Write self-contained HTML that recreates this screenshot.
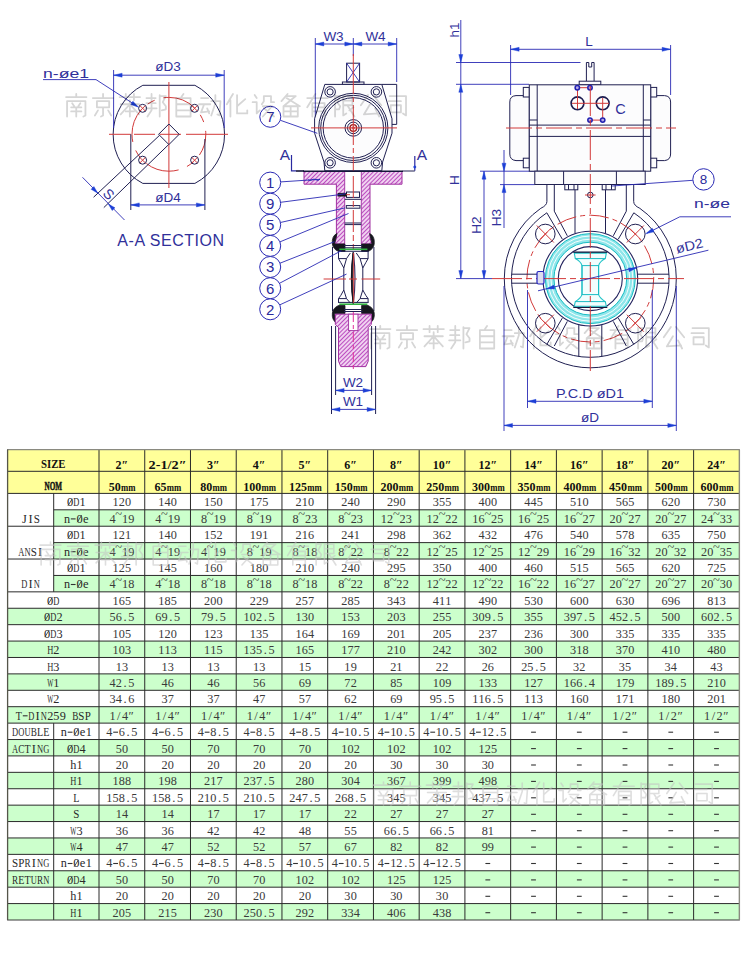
<!DOCTYPE html>
<html><head><meta charset="utf-8"><title>Valve dimensions</title>
<style>
html,body{margin:0;padding:0;background:#fff}
svg{display:block}
text{font-family:"Liberation Serif",serif}
.d{font-size:12.5px;fill:#3a3a3a;text-anchor:middle}
.l{font-size:12.5px;fill:#2a2a2a;text-anchor:middle}
.hb{font-size:12px;font-weight:bold;fill:#111;text-anchor:middle}
.hs{font-size:12px;font-weight:bold;fill:#111;text-anchor:middle}
.mm{font-size:10px}
.k{fill:none;stroke:#202052;stroke-width:1}
.kk{fill:none;stroke:#15153a;stroke-width:1.6}
.kb{fill:none;stroke:#2a2aa0;stroke-width:1.2}
.kf{fill:#fcfcfd;stroke:#202052;stroke-width:1}
.kw{fill:#fff;stroke:#23235e;stroke-width:1.1}
.w{fill:#fff;stroke:none}
.wf{fill:#fcfcfd;stroke:none}
.wm{fill:#fff;stroke:#a030a0;stroke-width:0.9}
.m{fill:none;stroke:#a030a0;stroke-width:0.9}
.r{fill:none;stroke:#d23a3a;stroke-width:1}
.rk{fill:none;stroke:#a02020;stroke-width:1.4}
.mg{fill:none;stroke:#e0309a;stroke-width:1}
.g{fill:none;stroke:#30b040;stroke-width:1.6}
.dm{fill:none;stroke:#2a2ab4;stroke-width:0.9}
.ar{fill:#1d3fd6;stroke:#1d3fd6;stroke-width:0.4}
.bl{fill:#fff;stroke:#2a2ab4;stroke-width:1}
.bb{fill:#b8a8e6;stroke:#2020b0;stroke-width:1.5}
.bbf{fill:#dde;stroke:#2222c0;stroke-width:1.2}
.blk{fill:#16161e;stroke:#16161e;stroke-width:0.8}
.hz{fill:url(#hatch);stroke:#a030a0;stroke-width:1}
.cy{fill:none;stroke:#8fe6ea}
.c2{fill:none;stroke:#18bcc4;stroke-width:1}
.c4{fill:none;stroke:#fff;stroke-width:0.9}
.kt{fill:#fff;stroke:#1c1c50;stroke-width:1.6}
.c3{fill:#f2fdfd;stroke:#25c4c8;stroke-width:1.1}
.t,.tb{font-family:"Liberation Sans",sans-serif;fill:#30309a;stroke:#fff;stroke-width:0.35px;paint-order:stroke}
.tb{fill:#2a2a9c}
</style></head>
<body>
<svg width="750" height="958" viewBox="0 0 750 958">
<defs><pattern id="hatch" width="3" height="3" patternUnits="userSpaceOnUse" patternTransform="rotate(-45)"><rect width="3" height="3" fill="#f6e0f6"/><line x1="0" y1="1.5" x2="3" y2="1.5" stroke="#bb4cc0" stroke-width="1.2"/></pattern></defs>
<rect width="750" height="958" fill="#fff"/>
<g id="drawing">
<path class="k" d="M142.8,85.3 L194.9,85.3 A55.4,55.4 0 0 1 194.9,183.4 L142.8,183.4 A55.4,55.4 0 0 1 142.8,85.3 Z" />
<line class="r" x1="109.0" y1="134.3" x2="130.8" y2="134.3" />
<line class="r" x1="134.0" y1="134.3" x2="205.0" y2="134.3" stroke-dasharray="21 5"/>
<line class="r" x1="205.0" y1="134.3" x2="228.0" y2="134.3" />
<line class="r" x1="168.9" y1="82.0" x2="168.9" y2="188.0" />
<circle class="r" cx="168.9" cy="134.3" r="36.9" stroke-dasharray="34 9 8 9" stroke-dashoffset="12"/>
<circle class="k" cx="142.6" cy="108.3" r="4.0" stroke-width="1.2"/>
<line class="r" x1="139.9" y1="105.6" x2="145.3" y2="111.0" />
<line class="r" x1="139.9" y1="111.0" x2="145.3" y2="105.6" />
<circle class="k" cx="194.6" cy="108.3" r="4.0" stroke-width="1.2"/>
<line class="r" x1="191.9" y1="105.6" x2="197.3" y2="111.0" />
<line class="r" x1="191.9" y1="111.0" x2="197.3" y2="105.6" />
<circle class="k" cx="142.6" cy="160.2" r="4.0" stroke-width="1.2"/>
<line class="r" x1="139.9" y1="157.5" x2="145.3" y2="162.9" />
<line class="r" x1="139.9" y1="162.9" x2="145.3" y2="157.5" />
<circle class="k" cx="194.6" cy="160.2" r="4.0" stroke-width="1.2"/>
<line class="r" x1="191.9" y1="157.5" x2="197.3" y2="162.9" />
<line class="r" x1="191.9" y1="162.9" x2="197.3" y2="157.5" />
<path class="k" d="M168.9,124.0 L179.2,134.3 L168.9,144.6 L158.6,134.3 Z" stroke-linejoin="round" stroke-width="1.3"/>
<line class="k" x1="159.6" y1="135.3" x2="93.6" y2="197.2" />
<line class="k" x1="168.6" y1="144.6" x2="103.8" y2="207.6" />
<line class="dm" x1="82.5" y1="177.3" x2="124.5" y2="220.0" />
<path class="ar" d="M97.8,193.2 L91.1,189.3 L93.9,186.5 Z"/>
<path class="ar" d="M108.3,203.9 L115.0,207.8 L112.2,210.6 Z"/>
<text class="t" x="105.2" y="197.5" font-size="14" text-anchor="middle" transform="rotate(45 105.2 197.5)" >S</text>
<line class="dm" x1="113.6" y1="70.0" x2="113.6" y2="128.0" />
<line class="dm" x1="224.2" y1="70.0" x2="224.2" y2="128.0" />
<line class="dm" x1="113.6" y1="75.2" x2="224.2" y2="75.2" />
<path class="ar" d="M113.6,75.2 L122.1,73.2 L122.1,77.2 Z"/>
<path class="ar" d="M224.2,75.2 L215.7,77.2 L215.7,73.2 Z"/>
<text class="t" x="168.0" y="71.0" font-size="13.5" text-anchor="middle" >øD3</text>
<line class="k" x1="130.8" y1="134.3" x2="130.8" y2="210.0" />
<line class="k" x1="204.9" y1="139.0" x2="204.9" y2="210.0" />
<line class="dm" x1="130.8" y1="204.9" x2="204.9" y2="204.9" />
<path class="ar" d="M130.8,204.9 L139.3,202.9 L139.3,206.9 Z"/>
<path class="ar" d="M204.9,204.9 L196.4,206.9 L196.4,202.9 Z"/>
<text class="t" x="168.0" y="201.5" font-size="13.5" text-anchor="middle" >øD4</text>
<text class="t" x="43.0" y="77.5" font-size="13.5" text-anchor="start" textLength="46" lengthAdjust="spacingAndGlyphs">n-øe1</text>
<line class="dm" x1="43.0" y1="79.6" x2="96.0" y2="79.6" />
<line class="dm" x1="96.0" y1="79.6" x2="137.5" y2="106.4" />
<path class="ar" d="M138.5,107.2 L130.7,104.5 L132.9,101.2 Z"/>
<text class="t" x="171.0" y="246.3" font-size="16" text-anchor="middle" letter-spacing="0.55">A-A SECTION</text>
<line class="dm" x1="315.3" y1="38.0" x2="315.3" y2="120.0" />
<line class="dm" x1="396.7" y1="38.0" x2="396.7" y2="82.0" />
<line class="dm" x1="353.3" y1="38.0" x2="353.3" y2="56.0" />
<line class="dm" x1="315.3" y1="44.0" x2="353.3" y2="44.0" />
<path class="ar" d="M315.3,44.0 L323.8,42.0 L323.8,46.0 Z"/>
<path class="ar" d="M353.3,44.0 L344.8,46.0 L344.8,42.0 Z"/>
<line class="dm" x1="353.3" y1="44.0" x2="396.7" y2="44.0" />
<path class="ar" d="M353.3,44.0 L361.8,42.0 L361.8,46.0 Z"/>
<path class="ar" d="M396.7,44.0 L388.2,46.0 L388.2,42.0 Z"/>
<text class="t" x="333.5" y="40.5" font-size="13.5" text-anchor="middle" >W3</text>
<text class="t" x="375.5" y="40.5" font-size="13.5" text-anchor="middle" >W4</text>
<rect class="k" x="346.6" y="63.2" width="13.0" height="18.8" />
<line class="dm" x1="346.6" y1="63.2" x2="359.6" y2="82.0" />
<line class="dm" x1="359.6" y1="63.2" x2="346.6" y2="82.0" />
<rect class="k" x="342.4" y="82.0" width="21.6" height="2.4" />
<path class="kf" d="M324.8,84.4 L381.8,84.4 L392.0,118.8 L392.0,133.2 L382.6,162.0 L381.8,170.8 L324.8,170.8 L324.0,162.0 L314.6,133.2 L314.6,118.8 Z" />
<path class="k" d="M381.8,84.4 L396.7,84.4 L396.7,124.4 L392.0,124.4" />
<circle class="k" cx="353.3" cy="127.9" r="34.6" />
<circle class="k" cx="353.3" cy="127.9" r="32.6" />
<circle class="k" cx="353.3" cy="127.9" r="30.2" />
<circle class="k" cx="353.3" cy="127.9" r="8.3" />
<circle class="k" cx="353.3" cy="127.9" r="5.8" />
<circle class="rk" cx="353.3" cy="127.9" r="3.3" />
<circle class="r" cx="353.3" cy="127.9" r="1.2" />
<circle class="k" cx="330.1" cy="91.9" r="5.3" />
<circle class="k" cx="330.1" cy="91.9" r="3.1" />
<circle class="k" cx="376.4" cy="91.9" r="5.3" />
<circle class="k" cx="376.4" cy="91.9" r="3.1" />
<circle class="k" cx="330.1" cy="162.8" r="5.3" />
<circle class="k" cx="330.1" cy="162.8" r="3.1" />
<circle class="k" cx="376.4" cy="162.8" r="5.3" />
<circle class="k" cx="376.4" cy="162.8" r="3.1" />
<line class="r" x1="311.0" y1="127.9" x2="397.0" y2="127.9" />
<line class="r" x1="353.3" y1="54.0" x2="353.3" y2="176.0" stroke-dasharray="40 3 5 3"/>
<text class="t" x="285.0" y="160.3" font-size="15.5" text-anchor="middle" >A</text>
<path class="kb" d="M291.5,155.0 L291.5,170.8 L296.0,170.8" />
<line class="kk" x1="296.0" y1="171.0" x2="304.0" y2="171.0" />
<text class="t" x="422.0" y="160.3" font-size="15.5" text-anchor="middle" >A</text>
<path class="kb" d="M414.8,156.0 L414.8,170.8" />
<circle class="ar" cx="414.8" cy="167.0" r="1.2" />
<line class="k" x1="402.7" y1="171.0" x2="414.8" y2="171.0" />
<path class="hz" d="M304,171.5 L402,171.5 L402,184.2 L370,184.2 L370,238 L372,244 L334.5,244 L336.4,238 L336.4,184.2 L304,184.2 Z" />
<rect class="w" x="344.7" y="171.0" width="16.6" height="74.0" />
<line class="m" x1="344.7" y1="171.5" x2="344.7" y2="244.0" />
<line class="m" x1="361.3" y1="171.5" x2="361.3" y2="244.0" />
<line class="kk" x1="303.0" y1="171.3" x2="403.0" y2="171.3" />
<rect class="k" x="346.5" y="192.0" width="13.0" height="5.4" />
<rect class="blk" x="338.0" y="193.3" width="8.5" height="2.8" />
<line class="r" x1="346.0" y1="194.7" x2="350.0" y2="194.7" />
<line class="k" x1="344.7" y1="199.3" x2="361.3" y2="199.3" />
<rect class="k" x="346.3" y="205.6" width="13.6" height="2.6" />
<line class="k" x1="344.7" y1="223.0" x2="361.3" y2="223.0" />
<line class="k" x1="344.7" y1="224.6" x2="361.3" y2="224.6" />
<line class="r" x1="353.3" y1="176.0" x2="353.3" y2="250.0" stroke-dasharray="22 3 6 3"/>
<path class="blk" d="M337,233.5 Q331.5,236 332.4,244 Q333,249 338.5,251.5 L345,251.5 L345,244 L334.5,244 Z" />
<path class="blk" d="M369.6,233.5 Q375.1,236 374.2,244 Q373.6,249 368.1,251.5 L361.6,251.5 L361.6,244 L372.1,244 Z" />
<line class="k" x1="344.0" y1="245.5" x2="362.6" y2="245.5" />
<line class="k" x1="344.0" y1="247.8" x2="362.6" y2="247.8" />
<line class="k" x1="332.5" y1="247.0" x2="332.5" y2="311.0" />
<line class="k" x1="373.9" y1="247.0" x2="373.9" y2="311.0" />
<line class="g" x1="339.3" y1="249.3" x2="367.4" y2="249.3" />
<line class="g" x1="339.3" y1="304.2" x2="367.4" y2="304.2" />
<line class="k" x1="338.0" y1="251.3" x2="368.6" y2="251.3" />
<line class="k" x1="338.0" y1="302.4" x2="368.6" y2="302.4" />
<path class="k" d="M338.5,251.3 L338.5,258.6 L340.8,262.6 L343.8,268.0 L343.8,290.0 L340.8,295.4 L338.5,298.6 L338.5,302.4" />
<path class="k" d="M368.1,251.3 L368.1,258.6 L365.8,262.6 L362.8,268.0 L362.8,290.0 L365.8,295.4 L368.1,298.6 L368.1,302.4" />
<path class="k" d="M338.5,258.6 L346.5,258.6 L343.8,268.0" />
<path class="k" d="M368.1,258.6 L360.1,258.6 L362.8,268.0" />
<path class="k" d="M338.5,298.6 L346.5,298.6 L343.8,290.0" />
<path class="k" d="M368.1,298.6 L360.1,298.6 L362.8,290.0" />
<path class="k" d="M346.5,258.6 L350.3,253.0" />
<path class="k" d="M360.1,258.6 L356.3,253.0" />
<path class="k" d="M346.5,298.6 L350.3,303.0" />
<path class="k" d="M360.1,298.6 L356.3,303.0" />
<path class="kw" d="M353.3,252.4 Q356.7,278 353.3,303.4 Q349.7,278 353.3,252.4 Z" stroke-width="1.2"/>
<path class="blk" d="M353.1,252.4 Q349.5,278 353.1,303.4 Q352.1,278 353.1,252.4 Z" />
<line class="r" x1="353.7" y1="253.0" x2="353.7" y2="303.0" />
<line class="r" x1="323.6" y1="279.0" x2="346.0" y2="279.0" />
<line class="r" x1="349.0" y1="279.0" x2="357.0" y2="279.0" />
<line class="r" x1="361.5" y1="279.0" x2="380.2" y2="279.0" />
<path class="blk" d="M338.5,305.5 Q333,308 332.4,313 Q331.5,320 337,323.5 L334.5,313.5 L345,313.5 L345,305.5 Z" />
<path class="blk" d="M368.1,305.5 Q373.6,308 374.2,313 Q375.1,320 369.6,323.5 L372.1,313.5 L361.6,313.5 L361.6,305.5 Z" />
<line class="k" x1="344.0" y1="309.5" x2="362.6" y2="309.5" />
<line class="k" x1="344.0" y1="311.5" x2="362.6" y2="311.5" />
<path class="hz" d="M335.3,314.2 L371.3,314.2 L371.3,324.5 L368.2,327.5 L368.2,361.2 L365.8,366.6 L340.8,366.6 L338.5,361.2 L338.5,327.5 L335.3,324.5 Z" />
<rect class="wm" x="348.6" y="314.2" width="9.4" height="16.4" />
<line class="mg" x1="353.3" y1="312.0" x2="353.3" y2="372.0" stroke-dasharray="10 3 4 3"/>
<line class="k" x1="331.5" y1="326.0" x2="331.5" y2="414.0" />
<line class="k" x1="375.6" y1="326.0" x2="375.6" y2="414.0" />
<line class="k" x1="335.6" y1="326.0" x2="335.6" y2="395.0" />
<line class="k" x1="371.6" y1="326.0" x2="371.6" y2="395.0" />
<line class="dm" x1="335.6" y1="390.4" x2="371.6" y2="390.4" />
<path class="ar" d="M335.6,390.4 L344.1,388.4 L344.1,392.4 Z"/>
<path class="ar" d="M371.6,390.4 L363.1,392.4 L363.1,388.4 Z"/>
<line class="dm" x1="331.5" y1="409.4" x2="375.6" y2="409.4" />
<path class="ar" d="M331.5,409.4 L340.0,407.4 L340.0,411.4 Z"/>
<path class="ar" d="M375.6,409.4 L367.1,411.4 L367.1,407.4 Z"/>
<text class="t" x="353.0" y="387.0" font-size="13.5" text-anchor="middle" >W2</text>
<text class="t" x="353.0" y="406.0" font-size="13.5" text-anchor="middle" >W1</text>
<line class="dm" x1="280.7" y1="181.9" x2="320.0" y2="179.3" />
<ellipse class="bl" cx="270.2" cy="182.6" rx="10.5" ry="10.5"/>
<text class="tb" x="270.2" y="188.0" font-size="15" text-anchor="middle" >1</text>
<line class="dm" x1="280.6" y1="202.3" x2="345.8" y2="193.8" />
<ellipse class="bl" cx="270.2" cy="203.7" rx="10.5" ry="10.5"/>
<text class="tb" x="270.2" y="209.1" font-size="15" text-anchor="middle" >9</text>
<line class="dm" x1="280.4" y1="222.5" x2="345.0" y2="207.9" />
<ellipse class="bl" cx="270.2" cy="224.8" rx="10.5" ry="10.5"/>
<text class="tb" x="270.2" y="230.2" font-size="15" text-anchor="middle" >5</text>
<line class="dm" x1="279.9" y1="241.9" x2="348.5" y2="213.5" />
<ellipse class="bl" cx="270.2" cy="245.9" rx="10.5" ry="10.5"/>
<text class="tb" x="270.2" y="251.3" font-size="15" text-anchor="middle" >4</text>
<line class="dm" x1="280.0" y1="263.2" x2="334.4" y2="241.7" />
<ellipse class="bl" cx="270.2" cy="267.0" rx="10.5" ry="10.5"/>
<text class="tb" x="270.2" y="272.4" font-size="15" text-anchor="middle" >3</text>
<line class="dm" x1="279.5" y1="283.3" x2="341.4" y2="250.7" />
<ellipse class="bl" cx="270.2" cy="288.2" rx="10.5" ry="10.5"/>
<text class="tb" x="270.2" y="293.6" font-size="15" text-anchor="middle" >6</text>
<line class="dm" x1="279.7" y1="304.9" x2="346.5" y2="274.1" />
<ellipse class="bl" cx="270.2" cy="309.3" rx="10.5" ry="10.5"/>
<text class="tb" x="270.2" y="314.7" font-size="15" text-anchor="middle" >2</text>
<line class="dm" x1="280.4" y1="120.3" x2="317.3" y2="133.3" />
<ellipse class="bl" cx="270.3" cy="116.8" rx="10.5" ry="10.5"/>
<text class="tb" x="270.3" y="122.2" font-size="15" text-anchor="middle" >7</text>
<path class="dm" d="M308,179.8 q2,1.5 4,0 t4,0 t4,-0.6" />
<line class="dm" x1="456.0" y1="62.5" x2="580.5" y2="62.5" />
<line class="dm" x1="456.0" y1="84.3" x2="529.0" y2="84.3" />
<line class="dm" x1="460.8" y1="20.0" x2="460.8" y2="278.6" />
<path class="ar" d="M460.8,62.5 L458.8,54.5 L462.8,54.5 Z"/>
<path class="ar" d="M460.8,84.3 L462.8,92.3 L458.8,92.3 Z"/>
<path class="ar" d="M460.8,278.6 L458.8,270.6 L462.8,270.6 Z"/>
<text class="t" x="458.5" y="30.0" font-size="13.5" text-anchor="middle" transform="rotate(-90 458.5 30.0)" >h1</text>
<text class="t" x="458.5" y="180.0" font-size="13.5" text-anchor="middle" transform="rotate(-90 458.5 180.0)" >H</text>
<line class="dm" x1="456.0" y1="278.6" x2="492.0" y2="278.6" />
<line class="dm" x1="480.0" y1="171.2" x2="534.8" y2="171.2" />
<line class="dm" x1="484.0" y1="171.2" x2="484.0" y2="278.6" />
<path class="ar" d="M484.0,171.2 L486.0,179.2 L482.0,179.2 Z"/>
<path class="ar" d="M484.0,278.6 L482.0,270.6 L486.0,270.6 Z"/>
<text class="t" x="481.0" y="225.0" font-size="13.5" text-anchor="middle" transform="rotate(-90 481.0 225.0)" >H2</text>
<line class="dm" x1="500.0" y1="184.6" x2="534.8" y2="184.6" />
<line class="dm" x1="504.0" y1="150.0" x2="504.0" y2="228.0" />
<path class="ar" d="M504.0,171.2 L502.0,163.2 L506.0,163.2 Z"/>
<path class="ar" d="M504.0,184.6 L506.0,192.6 L502.0,192.6 Z"/>
<text class="t" x="501.3" y="217.5" font-size="13.5" text-anchor="middle" transform="rotate(-90 501.3 217.5)" >H3</text>
<line class="dm" x1="510.6" y1="45.0" x2="510.6" y2="95.0" />
<line class="dm" x1="670.6" y1="45.0" x2="670.6" y2="95.0" />
<line class="dm" x1="510.6" y1="49.3" x2="670.6" y2="49.3" />
<path class="ar" d="M510.6,49.3 L519.1,47.3 L519.1,51.3 Z"/>
<path class="ar" d="M670.6,49.3 L662.1,51.3 L662.1,47.3 Z"/>
<text class="t" x="589.0" y="45.5" font-size="13.5" text-anchor="middle" >L</text>
<path class="kf" d="M586.4,81.2 L586.4,62.5 L588.8,62.5 L588.8,67 L591.7,67 L591.7,62.5 L594.1,62.5 L594.1,81.2" />
<rect class="kf" x="579.2" y="81.2" width="21.6" height="3.6" />
<path class="kf" d="M529.3,95.6 L516,95.6 Q509.8,96 509.8,102 L509.8,154 Q509.8,160 516,160.6 L529.3,160.6 Z" />
<path class="kf" d="M650.7,95.6 L664.5,95.6 Q670.6,96 670.6,102 L670.6,154 Q670.6,160 664.5,160.6 L650.7,160.6 Z" />
<rect class="kf" x="523.3" y="87.4" width="6.0" height="9.6" />
<rect class="kf" x="650.7" y="87.4" width="6.0" height="9.6" />
<rect class="kf" x="523.3" y="158.2" width="6.0" height="9.6" />
<rect class="kf" x="650.7" y="158.2" width="6.0" height="9.6" />
<rect class="kf" x="529.3" y="84.8" width="121.4" height="86.4" />
<line class="k" x1="537.2" y1="84.8" x2="537.2" y2="171.2" />
<line class="k" x1="643.3" y1="84.8" x2="643.3" y2="171.2" />
<line class="k" x1="529.3" y1="125.1" x2="650.7" y2="125.1" />
<line class="k" x1="529.3" y1="136.4" x2="650.7" y2="136.4" />
<line class="k" x1="529.3" y1="120.0" x2="537.2" y2="120.0" />
<line class="k" x1="643.3" y1="120.0" x2="650.7" y2="120.0" />
<line class="r" x1="506.0" y1="128.0" x2="676.0" y2="128.0" stroke-dasharray="26 4 6 4"/>
<circle class="kt" cx="577.5" cy="103.3" r="6.4" />
<circle class="kt" cx="602.7" cy="103.3" r="6.4" />
<line class="r" x1="572.0" y1="103.3" x2="609.0" y2="103.3" />
<line class="r" x1="577.5" y1="87.7" x2="577.5" y2="109.0" />
<line class="r" x1="602.7" y1="98.0" x2="602.7" y2="120.1" />
<line class="r" x1="577.3" y1="87.7" x2="590.0" y2="87.7" />
<line class="r" x1="590.0" y1="120.1" x2="602.7" y2="120.1" />
<circle class="bb" cx="577.3" cy="87.7" r="2.2" />
<circle class="bb" cx="590.0" cy="87.7" r="2.2" />
<circle class="bb" cx="590.0" cy="120.1" r="2.2" />
<circle class="bb" cx="602.7" cy="120.1" r="2.2" />
<text class="t" x="620.5" y="113.5" font-size="14.5" text-anchor="middle" >C</text>
<rect class="kf" x="534.8" y="171.2" width="110.4" height="13.3" />
<line class="k" x1="563.6" y1="171.2" x2="563.6" y2="184.5" />
<line class="k" x1="616.4" y1="171.2" x2="616.4" y2="184.5" />
<rect class="kf" x="564.8" y="184.5" width="13.0" height="5.3" />
<rect class="kf" x="602.2" y="184.5" width="13.0" height="5.3" />
<line class="k" x1="568.5" y1="184.5" x2="568.5" y2="189.8" />
<line class="k" x1="574.0" y1="184.5" x2="574.0" y2="189.8" />
<line class="k" x1="606.0" y1="184.5" x2="606.0" y2="189.8" />
<line class="k" x1="611.5" y1="184.5" x2="611.5" y2="189.8" />
<path class="k" d="M639.8,208.3 A86.0,86.0 0 0 1 676.3,278.6 A86.0,89.2 0 0 1 504.3,278.6 A86.0,86.0 0 0 1 540.8,208.3" />
<path class="k" d="M546.9,184.5 L546.9,201.5 Q546.9,205.5 540.8,208.3" />
<path class="k" d="M633.7,184.5 L633.7,201.5 Q633.7,205.5 639.8,208.3" />
<line class="k" x1="567.3" y1="235.8" x2="554.3" y2="211.2" />
<line class="k" x1="562.3" y1="239.1" x2="546.8" y2="212.8" />
<line class="k" x1="567.3" y1="321.4" x2="554.3" y2="346.0" />
<line class="k" x1="562.3" y1="318.1" x2="546.8" y2="344.4" />
<line class="k" x1="554.3" y1="184.5" x2="554.3" y2="211.2" />
<line class="k" x1="613.3" y1="235.8" x2="626.3" y2="211.2" />
<line class="k" x1="618.3" y1="239.1" x2="633.8" y2="212.8" />
<line class="k" x1="613.3" y1="321.4" x2="626.3" y2="346.0" />
<line class="k" x1="618.3" y1="318.1" x2="633.8" y2="344.4" />
<line class="k" x1="626.3" y1="184.5" x2="626.3" y2="211.2" />
<path class="k" d="M633.8,212.8 A78.8,78.8 0 1 1 546.8,212.8" />
<line class="k" x1="575.0" y1="189.8" x2="575.0" y2="233.5" />
<line class="k" x1="605.5" y1="189.8" x2="605.5" y2="233.5" />
<circle class="k" cx="590.3" cy="195.0" r="2.8" />
<line class="r" x1="585.0" y1="195.0" x2="595.6" y2="195.0" />
<circle class="r" cx="590.3" cy="278.6" r="63.4" stroke-dasharray="20 4 5 4"/>
<circle class="k" cx="545.3" cy="234.0" r="9.8" />
<line class="r" x1="536.8" y1="225.5" x2="553.8" y2="242.5" />
<line class="r" x1="539.8" y1="239.5" x2="550.8" y2="228.5" />
<circle class="k" cx="545.3" cy="323.2" r="9.8" />
<line class="r" x1="536.8" y1="331.7" x2="553.8" y2="314.7" />
<line class="r" x1="539.8" y1="317.7" x2="550.8" y2="328.7" />
<circle class="k" cx="635.3" cy="234.0" r="9.8" />
<line class="r" x1="626.8" y1="242.5" x2="643.8" y2="225.5" />
<line class="r" x1="629.8" y1="228.5" x2="640.8" y2="239.5" />
<circle class="k" cx="635.3" cy="323.2" r="9.8" />
<line class="r" x1="626.8" y1="314.7" x2="643.8" y2="331.7" />
<line class="r" x1="629.8" y1="328.7" x2="640.8" y2="317.7" />
<line class="k" x1="542.7" y1="274.2" x2="511.6" y2="274.2" />
<line class="k" x1="542.7" y1="283.2" x2="511.6" y2="283.2" />
<line class="k" x1="637.9" y1="274.2" x2="669.0" y2="274.2" />
<line class="k" x1="637.9" y1="283.2" x2="669.0" y2="283.2" />
<line class="k" x1="578.8" y1="325.1" x2="578.8" y2="356.6" />
<line class="k" x1="601.8" y1="325.1" x2="601.8" y2="356.6" />
<circle class="kw" cx="590.3" cy="278.6" r="47.4" stroke-width="1.4"/>
<circle class="cy" cx="590.3" cy="278.6" r="40.6" stroke-width="8.6"/>
<circle class="c2" cx="590.3" cy="278.6" r="45.0" stroke-width="1.7"/>
<circle class="c2" cx="590.3" cy="278.6" r="36.4" stroke-width="1.7"/>
<circle class="c4" cx="590.3" cy="278.6" r="42.6" />
<circle class="c4" cx="590.3" cy="278.6" r="39.4" />
<circle class="kw" cx="590.3" cy="278.6" r="32.0" stroke-width="1.3"/>
<line class="kk" x1="573.3" y1="252.2" x2="607.3" y2="252.2" />
<line class="kk" x1="573.3" y1="307.2" x2="607.3" y2="307.2" />
<path class="c3" d="M574.3,253.20000000000002 L606.3,253.20000000000002 L605.3,258.6 Q599.8,261.6 598.5999999999999,265.6 L598.5999999999999,294.6 Q599.8,298.1 605.3,301.6 L606.3,306.20000000000005 L574.3,306.20000000000005 L575.3,301.6 Q580.8,298.1 582.0,294.6 L582.0,265.6 Q580.8,261.6 575.3,258.6 Z" />
<line class="c2" x1="575.3" y1="258.6" x2="605.3" y2="258.6" />
<line class="c2" x1="575.3" y1="301.6" x2="605.3" y2="301.6" />
<rect class="c2" x="582.0" y="265.6" width="16.6" height="29.0" />
<line class="r" x1="492.0" y1="278.6" x2="684.0" y2="278.6" stroke-dasharray="30 4 6 4"/>
<line class="r" x1="590.3" y1="86.0" x2="590.3" y2="371.0" stroke-dasharray="30 4 6 4"/>
<line class="dm" x1="538.0" y1="290.8" x2="708.4" y2="250.2" />
<path class="ar" d="M546.5,288.8 L553.8,285.1 L554.7,288.9 Z"/>
<path class="ar" d="M636.5,268.0 L629.2,271.7 L628.3,267.9 Z"/>
<text class="t" x="690.5" y="250.3" font-size="13.5" text-anchor="middle" transform="rotate(-13.4 690.5 250.3)" textLength="27.5" lengthAdjust="spacingAndGlyphs">øD2</text>
<rect class="bbf" x="537.0" y="271.5" width="7.0" height="12.5" rx="1.5"/>
<line class="dm" x1="692.9" y1="180.3" x2="612.0" y2="186.0" />
<ellipse class="bl" cx="703.5" cy="179.4" rx="10.7" ry="10.7"/>
<text class="tb" x="703.5" y="184.3" font-size="13.5" text-anchor="middle" >8</text>
<text class="t" x="712.0" y="208.3" font-size="13.5" text-anchor="middle" textLength="36" lengthAdjust="spacingAndGlyphs">n-øe</text>
<line class="dm" x1="679.8" y1="216.8" x2="731.0" y2="216.8" />
<line class="dm" x1="679.8" y1="216.8" x2="647.0" y2="233.2" />
<path class="ar" d="M645.6,233.8 L652.3,228.2 L654.1,231.8 Z"/>
<line class="dm" x1="527.5" y1="290.0" x2="527.5" y2="408.0" />
<line class="dm" x1="652.3" y1="290.0" x2="652.3" y2="408.0" />
<line class="dm" x1="527.5" y1="401.3" x2="652.3" y2="401.3" />
<path class="ar" d="M527.5,401.3 L536.0,399.3 L536.0,403.3 Z"/>
<path class="ar" d="M652.3,401.3 L643.8,403.3 L643.8,399.3 Z"/>
<text class="t" x="590.0" y="397.5" font-size="13" text-anchor="middle" textLength="68" lengthAdjust="spacingAndGlyphs">P.C.D  øD1</text>
<line class="dm" x1="504.0" y1="286.0" x2="504.0" y2="431.0" />
<line class="dm" x1="676.3" y1="286.0" x2="676.3" y2="431.0" />
<line class="dm" x1="504.0" y1="425.4" x2="676.3" y2="425.4" />
<path class="ar" d="M504.0,425.4 L512.5,423.4 L512.5,427.4 Z"/>
<path class="ar" d="M676.3,425.4 L667.8,427.4 L667.8,423.4 Z"/>
<text class="t" x="590.0" y="422.0" font-size="13.5" text-anchor="middle" >øD</text>
</g>
<g id="wm-top" style="mix-blend-mode:multiply">
<g fill="none" stroke="#d6d6d6" stroke-width="1.76" stroke-linecap="round" stroke-linejoin="round" opacity="1.0">
<path transform="translate(64.0 93.0) scale(1.021)" d="M2,4 L22,4 M12,1 L12,4 M3,23 L3,8 L21,8 L21,22 L19,23 M8,10 L10,13 M16,10 L14,13 M7,14 L17,14 M7,18 L17,18 M12,14 L12,23"/>
<path transform="translate(90.8 93.0) scale(1.021)" d="M12,1 L12,4 M2,5 L22,5 M6,8 L18,8 L18,14 L6,14 Z M12,14 L12,22 L10,23 M7,17 L4,22 M17,17 L20,22"/>
<path transform="translate(117.6 93.0) scale(1.021)" d="M2,4 L22,4 M8,1 L8,7 M16,1 L16,7 M3,11 L21,11 M12,7 L12,23 M12,11 L3,21 M12,11 L21,21 M8,18 L16,18"/>
<path transform="translate(144.4 93.0) scale(1.021)" d="M2,5 L11,5 M2,10 L11,10 M1,15 L12,15 M7,1 L7,17 L3,23 M15,2 L15,23 M15,3 L21,3 L18,9 L21,13 L21,16 L17,17"/>
<path transform="translate(171.2 93.0) scale(1.021)" d="M12,1 L10,4 M5,5 L19,5 L19,23 L5,23 Z M5,11 L19,11 M5,17 L19,17"/>
<path transform="translate(198.0 93.0) scale(1.021)" d="M3,5 L10,5 M1,11 L12,11 M6,11 L3,19 L11,18 M9,15 L11,20 M13,8 L22,8 L21,22 L19,21 M17,2 L17,10 L13,22"/>
<path transform="translate(224.8 93.0) scale(1.021)" d="M8,1 L2,11 M5.5,7 L5.5,23 M20,6 L12,13 M12,2 L12,20 L22,20 L22,17"/>
<path transform="translate(251.6 93.0) scale(1.021)" d="M3,2 L5,5 M1,9 L5,9 L5,20 L8,17 M12,3 L12,8 L10,11 M12,3 L19,3 L19,9 L22,9 M11,13 L20,13 L11,23 M12,15 L22,23"/>
<path transform="translate(278.4 93.0) scale(1.021)" d="M9,1 L3,8 M8,3 L17,3 L5,13 M8,5 L21,13 M5,13 L19,13 L19,23 L5,23 Z M12,13 L12,23 M5,18 L19,18"/>
<path transform="translate(305.2 93.0) scale(1.021)" d="M2,5 L22,5 M10,1 L2,14 M7,10 L7,23 M7,10 L19,10 L19,22 L17,23 M7,14 L19,14 M7,18 L19,18"/>
<path transform="translate(332.0 93.0) scale(1.021)" d="M3,2 L3,23 M3,3 L8,3 L5,9 L8,13 L7,16 L4,16 M11,3 L20,3 L20,12 L11,12 M11,3 L11,22 L14,20 M11,7.5 L20,7.5 M15,12 L22,23 M21,14 L17,17"/>
<path transform="translate(358.8 93.0) scale(1.021)" d="M9,2 L2,12 M14,2 L22,12 M11,11 L5,21 L19,20 M16,15 L20,23"/>
<path transform="translate(385.6 93.0) scale(1.021)" d="M4,3 L20,3 L20,22 L17,20 M3,8 L15,8 M5,12 L15,12 L15,19 L5,19 Z"/>
</g>
<g fill="none" stroke="#d6d6d6" stroke-width="1.76" stroke-linecap="round" stroke-linejoin="round" opacity="1.0">
<path transform="translate(368.0 325.0) scale(1.021)" d="M2,4 L22,4 M12,1 L12,4 M3,23 L3,8 L21,8 L21,22 L19,23 M8,10 L10,13 M16,10 L14,13 M7,14 L17,14 M7,18 L17,18 M12,14 L12,23"/>
<path transform="translate(394.7 325.0) scale(1.021)" d="M12,1 L12,4 M2,5 L22,5 M6,8 L18,8 L18,14 L6,14 Z M12,14 L12,22 L10,23 M7,17 L4,22 M17,17 L20,22"/>
<path transform="translate(421.4 325.0) scale(1.021)" d="M2,4 L22,4 M8,1 L8,7 M16,1 L16,7 M3,11 L21,11 M12,7 L12,23 M12,11 L3,21 M12,11 L21,21 M8,18 L16,18"/>
<path transform="translate(448.1 325.0) scale(1.021)" d="M2,5 L11,5 M2,10 L11,10 M1,15 L12,15 M7,1 L7,17 L3,23 M15,2 L15,23 M15,3 L21,3 L18,9 L21,13 L21,16 L17,17"/>
<path transform="translate(474.8 325.0) scale(1.021)" d="M12,1 L10,4 M5,5 L19,5 L19,23 L5,23 Z M5,11 L19,11 M5,17 L19,17"/>
<path transform="translate(501.5 325.0) scale(1.021)" d="M3,5 L10,5 M1,11 L12,11 M6,11 L3,19 L11,18 M9,15 L11,20 M13,8 L22,8 L21,22 L19,21 M17,2 L17,10 L13,22"/>
<path transform="translate(528.2 325.0) scale(1.021)" d="M8,1 L2,11 M5.5,7 L5.5,23 M20,6 L12,13 M12,2 L12,20 L22,20 L22,17"/>
<path transform="translate(554.9 325.0) scale(1.021)" d="M3,2 L5,5 M1,9 L5,9 L5,20 L8,17 M12,3 L12,8 L10,11 M12,3 L19,3 L19,9 L22,9 M11,13 L20,13 L11,23 M12,15 L22,23"/>
<path transform="translate(581.6 325.0) scale(1.021)" d="M9,1 L3,8 M8,3 L17,3 L5,13 M8,5 L21,13 M5,13 L19,13 L19,23 L5,23 Z M12,13 L12,23 M5,18 L19,18"/>
<path transform="translate(608.3 325.0) scale(1.021)" d="M2,5 L22,5 M10,1 L2,14 M7,10 L7,23 M7,10 L19,10 L19,22 L17,23 M7,14 L19,14 M7,18 L19,18"/>
<path transform="translate(635.0 325.0) scale(1.021)" d="M3,2 L3,23 M3,3 L8,3 L5,9 L8,13 L7,16 L4,16 M11,3 L20,3 L20,12 L11,12 M11,3 L11,22 L14,20 M11,7.5 L20,7.5 M15,12 L22,23 M21,14 L17,17"/>
<path transform="translate(661.7 325.0) scale(1.021)" d="M9,2 L2,12 M14,2 L22,12 M11,11 L5,21 L19,20 M16,15 L20,23"/>
<path transform="translate(688.4 325.0) scale(1.021)" d="M4,3 L20,3 L20,22 L17,20 M3,8 L15,8 M5,12 L15,12 L15,19 L5,19 Z"/>
</g>
</g>
<g id="table">
<rect x="7.6" y="449.6" width="731.76" height="43.80" fill="#ffff99"/>
<rect x="53.70" y="509.81" width="685.66" height="16.41" fill="#ccffcc"/>
<rect x="53.70" y="542.62" width="685.66" height="16.41" fill="#ccffcc"/>
<rect x="53.70" y="575.44" width="685.66" height="16.41" fill="#ccffcc"/>
<rect x="7.60" y="608.25" width="731.76" height="16.41" fill="#ccffcc"/>
<rect x="7.60" y="641.07" width="731.76" height="16.41" fill="#ccffcc"/>
<rect x="7.60" y="673.88" width="731.76" height="16.41" fill="#ccffcc"/>
<rect x="7.60" y="706.70" width="731.76" height="16.41" fill="#ccffcc"/>
<rect x="7.60" y="739.52" width="731.76" height="16.41" fill="#ccffcc"/>
<rect x="7.60" y="772.33" width="731.76" height="16.41" fill="#ccffcc"/>
<rect x="7.60" y="805.15" width="731.76" height="16.41" fill="#ccffcc"/>
<rect x="7.60" y="837.96" width="731.76" height="16.41" fill="#ccffcc"/>
<rect x="7.60" y="870.78" width="731.76" height="16.41" fill="#ccffcc"/>
<rect x="7.60" y="903.59" width="731.76" height="16.41" fill="#ccffcc"/>
<line x1="7.60" y1="471.30" x2="739.36" y2="471.30" stroke="#2a2a2a" stroke-width="1"/>
<line x1="7.60" y1="493.40" x2="739.36" y2="493.40" stroke="#2a2a2a" stroke-width="1"/>
<line x1="53.70" y1="509.81" x2="739.36" y2="509.81" stroke="#2a2a2a" stroke-width="1"/>
<line x1="7.60" y1="526.22" x2="739.36" y2="526.22" stroke="#2a2a2a" stroke-width="1"/>
<line x1="53.70" y1="542.62" x2="739.36" y2="542.62" stroke="#2a2a2a" stroke-width="1"/>
<line x1="7.60" y1="559.03" x2="739.36" y2="559.03" stroke="#2a2a2a" stroke-width="1"/>
<line x1="53.70" y1="575.44" x2="739.36" y2="575.44" stroke="#2a2a2a" stroke-width="1"/>
<line x1="7.60" y1="591.85" x2="739.36" y2="591.85" stroke="#2a2a2a" stroke-width="1"/>
<line x1="7.60" y1="608.25" x2="739.36" y2="608.25" stroke="#2a2a2a" stroke-width="1"/>
<line x1="7.60" y1="624.66" x2="739.36" y2="624.66" stroke="#2a2a2a" stroke-width="1"/>
<line x1="7.60" y1="641.07" x2="739.36" y2="641.07" stroke="#2a2a2a" stroke-width="1"/>
<line x1="7.60" y1="657.48" x2="739.36" y2="657.48" stroke="#2a2a2a" stroke-width="1"/>
<line x1="7.60" y1="673.88" x2="739.36" y2="673.88" stroke="#2a2a2a" stroke-width="1"/>
<line x1="7.60" y1="690.29" x2="739.36" y2="690.29" stroke="#2a2a2a" stroke-width="1"/>
<line x1="7.60" y1="706.70" x2="739.36" y2="706.70" stroke="#2a2a2a" stroke-width="1"/>
<line x1="7.60" y1="723.11" x2="739.36" y2="723.11" stroke="#2a2a2a" stroke-width="1"/>
<line x1="7.60" y1="739.52" x2="739.36" y2="739.52" stroke="#2a2a2a" stroke-width="1"/>
<line x1="7.60" y1="755.92" x2="739.36" y2="755.92" stroke="#2a2a2a" stroke-width="1"/>
<line x1="7.60" y1="772.33" x2="739.36" y2="772.33" stroke="#2a2a2a" stroke-width="1"/>
<line x1="7.60" y1="788.74" x2="739.36" y2="788.74" stroke="#2a2a2a" stroke-width="1"/>
<line x1="7.60" y1="805.15" x2="739.36" y2="805.15" stroke="#2a2a2a" stroke-width="1"/>
<line x1="7.60" y1="821.55" x2="739.36" y2="821.55" stroke="#2a2a2a" stroke-width="1"/>
<line x1="7.60" y1="837.96" x2="739.36" y2="837.96" stroke="#2a2a2a" stroke-width="1"/>
<line x1="7.60" y1="854.37" x2="739.36" y2="854.37" stroke="#2a2a2a" stroke-width="1"/>
<line x1="7.60" y1="870.78" x2="739.36" y2="870.78" stroke="#2a2a2a" stroke-width="1"/>
<line x1="7.60" y1="887.18" x2="739.36" y2="887.18" stroke="#2a2a2a" stroke-width="1"/>
<line x1="7.60" y1="903.59" x2="739.36" y2="903.59" stroke="#2a2a2a" stroke-width="1"/>
<line x1="99.00" y1="449.60" x2="99.00" y2="920.00" stroke="#2a2a2a" stroke-width="1"/>
<line x1="144.74" y1="449.60" x2="144.74" y2="920.00" stroke="#2a2a2a" stroke-width="1"/>
<line x1="190.48" y1="449.60" x2="190.48" y2="920.00" stroke="#2a2a2a" stroke-width="1"/>
<line x1="236.22" y1="449.60" x2="236.22" y2="920.00" stroke="#2a2a2a" stroke-width="1"/>
<line x1="281.96" y1="449.60" x2="281.96" y2="920.00" stroke="#2a2a2a" stroke-width="1"/>
<line x1="327.70" y1="449.60" x2="327.70" y2="920.00" stroke="#2a2a2a" stroke-width="1"/>
<line x1="373.44" y1="449.60" x2="373.44" y2="920.00" stroke="#2a2a2a" stroke-width="1"/>
<line x1="419.18" y1="449.60" x2="419.18" y2="920.00" stroke="#2a2a2a" stroke-width="1"/>
<line x1="464.92" y1="449.60" x2="464.92" y2="920.00" stroke="#2a2a2a" stroke-width="1"/>
<line x1="510.66" y1="449.60" x2="510.66" y2="920.00" stroke="#2a2a2a" stroke-width="1"/>
<line x1="556.40" y1="449.60" x2="556.40" y2="920.00" stroke="#2a2a2a" stroke-width="1"/>
<line x1="602.14" y1="449.60" x2="602.14" y2="920.00" stroke="#2a2a2a" stroke-width="1"/>
<line x1="647.88" y1="449.60" x2="647.88" y2="920.00" stroke="#2a2a2a" stroke-width="1"/>
<line x1="693.62" y1="449.60" x2="693.62" y2="920.00" stroke="#2a2a2a" stroke-width="1"/>
<line x1="53.70" y1="493.40" x2="53.70" y2="591.85" stroke="#2a2a2a" stroke-width="1"/>
<line x1="53.70" y1="723.11" x2="53.70" y2="920.00" stroke="#2a2a2a" stroke-width="1"/>
<line x1="7.10" y1="449.60" x2="739.86" y2="449.60" stroke="#8a8a80" stroke-width="1.4"/>
<line x1="7.10" y1="920.00" x2="739.86" y2="920.00" stroke="#3a3a3a" stroke-width="1.2"/>
<line x1="7.60" y1="449.60" x2="7.60" y2="920.00" stroke="#55554a" stroke-width="1.3"/>
<line x1="739.36" y1="449.60" x2="739.36" y2="920.00" stroke="#8a8a80" stroke-width="1.4"/>
<text class="hb" x="53.3" y="467.6" textLength="24.5" lengthAdjust="spacingAndGlyphs">SIZE</text>
<text class="hb" x="53.3" y="490" textLength="17.5" stroke="#111" stroke-width="0.5" lengthAdjust="spacingAndGlyphs">NOM</text>
<text class="hs" x="121.9" y="468.6">2″</text>
<text class="hs" x="108.8" y="490.6" style="text-anchor:start">50<tspan class="mm" dx="0.3" textLength="14.5" lengthAdjust="spacingAndGlyphs">mm</tspan></text>
<text class="hs" x="167.6" y="468.6" textLength="38" lengthAdjust="spacingAndGlyphs">2-1/2″</text>
<text class="hs" x="154.5" y="490.6" style="text-anchor:start">65<tspan class="mm" dx="0.3" textLength="14.5" lengthAdjust="spacingAndGlyphs">mm</tspan></text>
<text class="hs" x="213.4" y="468.6">3″</text>
<text class="hs" x="200.3" y="490.6" style="text-anchor:start">80<tspan class="mm" dx="0.3" textLength="14.5" lengthAdjust="spacingAndGlyphs">mm</tspan></text>
<text class="hs" x="259.1" y="468.6">4″</text>
<text class="hs" x="243.2" y="490.6" style="text-anchor:start">100<tspan class="mm" dx="0.3" textLength="14.5" lengthAdjust="spacingAndGlyphs">mm</tspan></text>
<text class="hs" x="304.8" y="468.6">5″</text>
<text class="hs" x="288.9" y="490.6" style="text-anchor:start">125<tspan class="mm" dx="0.3" textLength="14.5" lengthAdjust="spacingAndGlyphs">mm</tspan></text>
<text class="hs" x="350.6" y="468.6">6″</text>
<text class="hs" x="334.7" y="490.6" style="text-anchor:start">150<tspan class="mm" dx="0.3" textLength="14.5" lengthAdjust="spacingAndGlyphs">mm</tspan></text>
<text class="hs" x="396.3" y="468.6">8″</text>
<text class="hs" x="380.4" y="490.6" style="text-anchor:start">200<tspan class="mm" dx="0.3" textLength="14.5" lengthAdjust="spacingAndGlyphs">mm</tspan></text>
<text class="hs" x="442.1" y="468.6">10″</text>
<text class="hs" x="426.2" y="490.6" style="text-anchor:start">250<tspan class="mm" dx="0.3" textLength="14.5" lengthAdjust="spacingAndGlyphs">mm</tspan></text>
<text class="hs" x="487.8" y="468.6">12″</text>
<text class="hs" x="471.9" y="490.6" style="text-anchor:start">300<tspan class="mm" dx="0.3" textLength="14.5" lengthAdjust="spacingAndGlyphs">mm</tspan></text>
<text class="hs" x="533.5" y="468.6">14″</text>
<text class="hs" x="517.6" y="490.6" style="text-anchor:start">350<tspan class="mm" dx="0.3" textLength="14.5" lengthAdjust="spacingAndGlyphs">mm</tspan></text>
<text class="hs" x="579.3" y="468.6">16″</text>
<text class="hs" x="563.4" y="490.6" style="text-anchor:start">400<tspan class="mm" dx="0.3" textLength="14.5" lengthAdjust="spacingAndGlyphs">mm</tspan></text>
<text class="hs" x="625.0" y="468.6">18″</text>
<text class="hs" x="609.1" y="490.6" style="text-anchor:start">450<tspan class="mm" dx="0.3" textLength="14.5" lengthAdjust="spacingAndGlyphs">mm</tspan></text>
<text class="hs" x="670.8" y="468.6">20″</text>
<text class="hs" x="654.9" y="490.6" style="text-anchor:start">500<tspan class="mm" dx="0.3" textLength="14.5" lengthAdjust="spacingAndGlyphs">mm</tspan></text>
<text class="hs" x="716.5" y="468.6">24″</text>
<text class="hs" x="700.6" y="490.6" style="text-anchor:start">600<tspan class="mm" dx="0.3" textLength="14.5" lengthAdjust="spacingAndGlyphs">mm</tspan></text>
<text class="l" x="70.1" y="506.4">0</text><line x1="67.9" y1="505.8" x2="72.3" y2="498.8" stroke="#2a2a2a" stroke-width="0.8"/><text class="l" transform="translate(76.3 506.4) scale(0.678 1)">D</text><text class="l" transform="translate(82.6 506.4) scale(0.980 1)">1</text>
<text class="l" y="522.8"><tspan x="24.4">J</tspan><tspan x="30.7">I</tspan></text><text class="l" transform="translate(36.9 522.8) scale(0.881 1)">S</text>
<text class="d" transform="translate(115.6 506.4) scale(0.980 1)">1</text><text class="d" transform="translate(121.9 506.4) scale(0.980 1)">2</text><text class="d" transform="translate(128.1 506.4) scale(0.980 1)">0</text>
<text class="d" transform="translate(161.4 506.4) scale(0.980 1)">1</text><text class="d" transform="translate(167.6 506.4) scale(0.980 1)">4</text><text class="d" transform="translate(173.9 506.4) scale(0.980 1)">0</text>
<text class="d" transform="translate(207.1 506.4) scale(0.980 1)">1</text><text class="d" transform="translate(213.4 506.4) scale(0.980 1)">5</text><text class="d" transform="translate(219.6 506.4) scale(0.980 1)">0</text>
<text class="d" transform="translate(252.8 506.4) scale(0.980 1)">1</text><text class="d" transform="translate(259.1 506.4) scale(0.980 1)">7</text><text class="d" transform="translate(265.3 506.4) scale(0.980 1)">5</text>
<text class="d" transform="translate(298.6 506.4) scale(0.980 1)">2</text><text class="d" transform="translate(304.8 506.4) scale(0.980 1)">1</text><text class="d" transform="translate(311.1 506.4) scale(0.980 1)">0</text>
<text class="d" transform="translate(344.3 506.4) scale(0.980 1)">2</text><text class="d" transform="translate(350.6 506.4) scale(0.980 1)">4</text><text class="d" transform="translate(356.8 506.4) scale(0.980 1)">0</text>
<text class="d" transform="translate(390.1 506.4) scale(0.980 1)">2</text><text class="d" transform="translate(396.3 506.4) scale(0.980 1)">9</text><text class="d" transform="translate(402.6 506.4) scale(0.980 1)">0</text>
<text class="d" transform="translate(435.8 506.4) scale(0.980 1)">3</text><text class="d" transform="translate(442.1 506.4) scale(0.980 1)">5</text><text class="d" transform="translate(448.3 506.4) scale(0.980 1)">5</text>
<text class="d" transform="translate(481.5 506.4) scale(0.980 1)">4</text><text class="d" transform="translate(487.8 506.4) scale(0.980 1)">0</text><text class="d" transform="translate(494.0 506.4) scale(0.980 1)">0</text>
<text class="d" transform="translate(527.3 506.4) scale(0.980 1)">4</text><text class="d" transform="translate(533.5 506.4) scale(0.980 1)">4</text><text class="d" transform="translate(539.8 506.4) scale(0.980 1)">5</text>
<text class="d" transform="translate(573.0 506.4) scale(0.980 1)">5</text><text class="d" transform="translate(579.3 506.4) scale(0.980 1)">1</text><text class="d" transform="translate(585.5 506.4) scale(0.980 1)">0</text>
<text class="d" transform="translate(618.8 506.4) scale(0.980 1)">5</text><text class="d" transform="translate(625.0 506.4) scale(0.980 1)">6</text><text class="d" transform="translate(631.3 506.4) scale(0.980 1)">5</text>
<text class="d" transform="translate(664.5 506.4) scale(0.980 1)">6</text><text class="d" transform="translate(670.8 506.4) scale(0.980 1)">2</text><text class="d" transform="translate(677.0 506.4) scale(0.980 1)">0</text>
<text class="d" transform="translate(710.2 506.4) scale(0.980 1)">7</text><text class="d" transform="translate(716.5 506.4) scale(0.980 1)">3</text><text class="d" transform="translate(722.7 506.4) scale(0.980 1)">0</text>
<text class="l" y="522.8"><tspan x="85.7">e</tspan></text><text class="l" transform="translate(67.0 522.8) scale(0.980 1)">n</text><line x1="70.8" y1="518.9" x2="75.6" y2="518.9" stroke="#333" stroke-width="1.1"/><text class="l" x="79.5" y="522.8">0</text><line x1="77.3" y1="522.2" x2="81.7" y2="515.2" stroke="#2a2a2a" stroke-width="0.8"/>
<text class="d" transform="translate(112.5 522.8) scale(0.980 1)">4</text><text class="d" x="118.7" y="518.2">~</text><text class="d" transform="translate(125.0 522.8) scale(0.980 1)">1</text><text class="d" transform="translate(131.2 522.8) scale(0.980 1)">9</text>
<text class="d" transform="translate(158.2 522.8) scale(0.980 1)">4</text><text class="d" x="164.5" y="518.2">~</text><text class="d" transform="translate(170.7 522.8) scale(0.980 1)">1</text><text class="d" transform="translate(177.0 522.8) scale(0.980 1)">9</text>
<text class="d" transform="translate(204.0 522.8) scale(0.980 1)">8</text><text class="d" x="210.2" y="518.2">~</text><text class="d" transform="translate(216.5 522.8) scale(0.980 1)">1</text><text class="d" transform="translate(222.7 522.8) scale(0.980 1)">9</text>
<text class="d" transform="translate(249.7 522.8) scale(0.980 1)">8</text><text class="d" x="256.0" y="518.2">~</text><text class="d" transform="translate(262.2 522.8) scale(0.980 1)">1</text><text class="d" transform="translate(268.5 522.8) scale(0.980 1)">9</text>
<text class="d" transform="translate(295.5 522.8) scale(0.980 1)">8</text><text class="d" x="301.7" y="518.2">~</text><text class="d" transform="translate(308.0 522.8) scale(0.980 1)">2</text><text class="d" transform="translate(314.2 522.8) scale(0.980 1)">3</text>
<text class="d" transform="translate(341.2 522.8) scale(0.980 1)">8</text><text class="d" x="347.4" y="518.2">~</text><text class="d" transform="translate(353.7 522.8) scale(0.980 1)">2</text><text class="d" transform="translate(359.9 522.8) scale(0.980 1)">3</text>
<text class="d" transform="translate(383.8 522.8) scale(0.980 1)">1</text><text class="d" transform="translate(390.1 522.8) scale(0.980 1)">2</text><text class="d" x="396.3" y="518.2">~</text><text class="d" transform="translate(402.6 522.8) scale(0.980 1)">2</text><text class="d" transform="translate(408.8 522.8) scale(0.980 1)">3</text>
<text class="d" transform="translate(429.6 522.8) scale(0.980 1)">1</text><text class="d" transform="translate(435.8 522.8) scale(0.980 1)">2</text><text class="d" x="442.1" y="518.2">~</text><text class="d" transform="translate(448.3 522.8) scale(0.980 1)">2</text><text class="d" transform="translate(454.6 522.8) scale(0.980 1)">2</text>
<text class="d" transform="translate(475.3 522.8) scale(0.980 1)">1</text><text class="d" transform="translate(481.5 522.8) scale(0.980 1)">6</text><text class="d" x="487.8" y="518.2">~</text><text class="d" transform="translate(494.0 522.8) scale(0.980 1)">2</text><text class="d" transform="translate(500.3 522.8) scale(0.980 1)">5</text>
<text class="d" transform="translate(521.0 522.8) scale(0.980 1)">1</text><text class="d" transform="translate(527.3 522.8) scale(0.980 1)">6</text><text class="d" x="533.5" y="518.2">~</text><text class="d" transform="translate(539.8 522.8) scale(0.980 1)">2</text><text class="d" transform="translate(546.0 522.8) scale(0.980 1)">5</text>
<text class="d" transform="translate(566.8 522.8) scale(0.980 1)">1</text><text class="d" transform="translate(573.0 522.8) scale(0.980 1)">6</text><text class="d" x="579.3" y="518.2">~</text><text class="d" transform="translate(585.5 522.8) scale(0.980 1)">2</text><text class="d" transform="translate(591.8 522.8) scale(0.980 1)">7</text>
<text class="d" transform="translate(612.5 522.8) scale(0.980 1)">2</text><text class="d" transform="translate(618.8 522.8) scale(0.980 1)">0</text><text class="d" x="625.0" y="518.2">~</text><text class="d" transform="translate(631.3 522.8) scale(0.980 1)">2</text><text class="d" transform="translate(637.5 522.8) scale(0.980 1)">7</text>
<text class="d" transform="translate(658.2 522.8) scale(0.980 1)">2</text><text class="d" transform="translate(664.5 522.8) scale(0.980 1)">0</text><text class="d" x="670.8" y="518.2">~</text><text class="d" transform="translate(677.0 522.8) scale(0.980 1)">2</text><text class="d" transform="translate(683.2 522.8) scale(0.980 1)">7</text>
<text class="d" transform="translate(704.0 522.8) scale(0.980 1)">2</text><text class="d" transform="translate(710.2 522.8) scale(0.980 1)">4</text><text class="d" x="716.5" y="518.2">~</text><text class="d" transform="translate(722.7 522.8) scale(0.980 1)">3</text><text class="d" transform="translate(729.0 522.8) scale(0.980 1)">3</text>
<text class="l" x="70.1" y="539.2">0</text><line x1="67.9" y1="538.6" x2="72.3" y2="531.6" stroke="#2a2a2a" stroke-width="0.8"/><text class="l" transform="translate(76.3 539.2) scale(0.678 1)">D</text><text class="l" transform="translate(82.6 539.2) scale(0.980 1)">1</text>
<text class="l" y="555.6"><tspan x="40.0">I</tspan></text><text class="l" transform="translate(21.3 555.6) scale(0.678 1)">A</text><text class="l" transform="translate(27.5 555.6) scale(0.678 1)">N</text><text class="l" transform="translate(33.8 555.6) scale(0.881 1)">S</text>
<text class="d" transform="translate(115.6 539.2) scale(0.980 1)">1</text><text class="d" transform="translate(121.9 539.2) scale(0.980 1)">2</text><text class="d" transform="translate(128.1 539.2) scale(0.980 1)">1</text>
<text class="d" transform="translate(161.4 539.2) scale(0.980 1)">1</text><text class="d" transform="translate(167.6 539.2) scale(0.980 1)">4</text><text class="d" transform="translate(173.9 539.2) scale(0.980 1)">0</text>
<text class="d" transform="translate(207.1 539.2) scale(0.980 1)">1</text><text class="d" transform="translate(213.4 539.2) scale(0.980 1)">5</text><text class="d" transform="translate(219.6 539.2) scale(0.980 1)">2</text>
<text class="d" transform="translate(252.8 539.2) scale(0.980 1)">1</text><text class="d" transform="translate(259.1 539.2) scale(0.980 1)">9</text><text class="d" transform="translate(265.3 539.2) scale(0.980 1)">1</text>
<text class="d" transform="translate(298.6 539.2) scale(0.980 1)">2</text><text class="d" transform="translate(304.8 539.2) scale(0.980 1)">1</text><text class="d" transform="translate(311.1 539.2) scale(0.980 1)">6</text>
<text class="d" transform="translate(344.3 539.2) scale(0.980 1)">2</text><text class="d" transform="translate(350.6 539.2) scale(0.980 1)">4</text><text class="d" transform="translate(356.8 539.2) scale(0.980 1)">1</text>
<text class="d" transform="translate(390.1 539.2) scale(0.980 1)">2</text><text class="d" transform="translate(396.3 539.2) scale(0.980 1)">9</text><text class="d" transform="translate(402.6 539.2) scale(0.980 1)">8</text>
<text class="d" transform="translate(435.8 539.2) scale(0.980 1)">3</text><text class="d" transform="translate(442.1 539.2) scale(0.980 1)">6</text><text class="d" transform="translate(448.3 539.2) scale(0.980 1)">2</text>
<text class="d" transform="translate(481.5 539.2) scale(0.980 1)">4</text><text class="d" transform="translate(487.8 539.2) scale(0.980 1)">3</text><text class="d" transform="translate(494.0 539.2) scale(0.980 1)">2</text>
<text class="d" transform="translate(527.3 539.2) scale(0.980 1)">4</text><text class="d" transform="translate(533.5 539.2) scale(0.980 1)">7</text><text class="d" transform="translate(539.8 539.2) scale(0.980 1)">6</text>
<text class="d" transform="translate(573.0 539.2) scale(0.980 1)">5</text><text class="d" transform="translate(579.3 539.2) scale(0.980 1)">4</text><text class="d" transform="translate(585.5 539.2) scale(0.980 1)">0</text>
<text class="d" transform="translate(618.8 539.2) scale(0.980 1)">5</text><text class="d" transform="translate(625.0 539.2) scale(0.980 1)">7</text><text class="d" transform="translate(631.3 539.2) scale(0.980 1)">8</text>
<text class="d" transform="translate(664.5 539.2) scale(0.980 1)">6</text><text class="d" transform="translate(670.8 539.2) scale(0.980 1)">3</text><text class="d" transform="translate(677.0 539.2) scale(0.980 1)">5</text>
<text class="d" transform="translate(710.2 539.2) scale(0.980 1)">7</text><text class="d" transform="translate(716.5 539.2) scale(0.980 1)">5</text><text class="d" transform="translate(722.7 539.2) scale(0.980 1)">0</text>
<text class="l" y="555.6"><tspan x="85.7">e</tspan></text><text class="l" transform="translate(67.0 555.6) scale(0.980 1)">n</text><line x1="70.8" y1="551.7" x2="75.6" y2="551.7" stroke="#333" stroke-width="1.1"/><text class="l" x="79.5" y="555.6">0</text><line x1="77.3" y1="555.0" x2="81.7" y2="548.0" stroke="#2a2a2a" stroke-width="0.8"/>
<text class="d" transform="translate(112.5 555.6) scale(0.980 1)">4</text><text class="d" x="118.7" y="551.0">~</text><text class="d" transform="translate(125.0 555.6) scale(0.980 1)">1</text><text class="d" transform="translate(131.2 555.6) scale(0.980 1)">9</text>
<text class="d" transform="translate(158.2 555.6) scale(0.980 1)">4</text><text class="d" x="164.5" y="551.0">~</text><text class="d" transform="translate(170.7 555.6) scale(0.980 1)">1</text><text class="d" transform="translate(177.0 555.6) scale(0.980 1)">9</text>
<text class="d" transform="translate(204.0 555.6) scale(0.980 1)">4</text><text class="d" x="210.2" y="551.0">~</text><text class="d" transform="translate(216.5 555.6) scale(0.980 1)">1</text><text class="d" transform="translate(222.7 555.6) scale(0.980 1)">9</text>
<text class="d" transform="translate(249.7 555.6) scale(0.980 1)">8</text><text class="d" x="256.0" y="551.0">~</text><text class="d" transform="translate(262.2 555.6) scale(0.980 1)">1</text><text class="d" transform="translate(268.5 555.6) scale(0.980 1)">9</text>
<text class="d" transform="translate(295.5 555.6) scale(0.980 1)">8</text><text class="d" x="301.7" y="551.0">~</text><text class="d" transform="translate(308.0 555.6) scale(0.980 1)">1</text><text class="d" transform="translate(314.2 555.6) scale(0.980 1)">8</text>
<text class="d" transform="translate(341.2 555.6) scale(0.980 1)">8</text><text class="d" x="347.4" y="551.0">~</text><text class="d" transform="translate(353.7 555.6) scale(0.980 1)">2</text><text class="d" transform="translate(359.9 555.6) scale(0.980 1)">2</text>
<text class="d" transform="translate(386.9 555.6) scale(0.980 1)">8</text><text class="d" x="393.2" y="551.0">~</text><text class="d" transform="translate(399.4 555.6) scale(0.980 1)">2</text><text class="d" transform="translate(405.7 555.6) scale(0.980 1)">2</text>
<text class="d" transform="translate(429.6 555.6) scale(0.980 1)">1</text><text class="d" transform="translate(435.8 555.6) scale(0.980 1)">2</text><text class="d" x="442.1" y="551.0">~</text><text class="d" transform="translate(448.3 555.6) scale(0.980 1)">2</text><text class="d" transform="translate(454.6 555.6) scale(0.980 1)">5</text>
<text class="d" transform="translate(475.3 555.6) scale(0.980 1)">1</text><text class="d" transform="translate(481.5 555.6) scale(0.980 1)">2</text><text class="d" x="487.8" y="551.0">~</text><text class="d" transform="translate(494.0 555.6) scale(0.980 1)">2</text><text class="d" transform="translate(500.3 555.6) scale(0.980 1)">5</text>
<text class="d" transform="translate(521.0 555.6) scale(0.980 1)">1</text><text class="d" transform="translate(527.3 555.6) scale(0.980 1)">2</text><text class="d" x="533.5" y="551.0">~</text><text class="d" transform="translate(539.8 555.6) scale(0.980 1)">2</text><text class="d" transform="translate(546.0 555.6) scale(0.980 1)">9</text>
<text class="d" transform="translate(566.8 555.6) scale(0.980 1)">1</text><text class="d" transform="translate(573.0 555.6) scale(0.980 1)">6</text><text class="d" x="579.3" y="551.0">~</text><text class="d" transform="translate(585.5 555.6) scale(0.980 1)">2</text><text class="d" transform="translate(591.8 555.6) scale(0.980 1)">9</text>
<text class="d" transform="translate(612.5 555.6) scale(0.980 1)">1</text><text class="d" transform="translate(618.8 555.6) scale(0.980 1)">6</text><text class="d" x="625.0" y="551.0">~</text><text class="d" transform="translate(631.3 555.6) scale(0.980 1)">3</text><text class="d" transform="translate(637.5 555.6) scale(0.980 1)">2</text>
<text class="d" transform="translate(658.2 555.6) scale(0.980 1)">2</text><text class="d" transform="translate(664.5 555.6) scale(0.980 1)">0</text><text class="d" x="670.8" y="551.0">~</text><text class="d" transform="translate(677.0 555.6) scale(0.980 1)">3</text><text class="d" transform="translate(683.2 555.6) scale(0.980 1)">2</text>
<text class="d" transform="translate(704.0 555.6) scale(0.980 1)">2</text><text class="d" transform="translate(710.2 555.6) scale(0.980 1)">0</text><text class="d" x="716.5" y="551.0">~</text><text class="d" transform="translate(722.7 555.6) scale(0.980 1)">3</text><text class="d" transform="translate(729.0 555.6) scale(0.980 1)">5</text>
<text class="l" x="70.1" y="572.0">0</text><line x1="67.9" y1="571.4" x2="72.3" y2="564.4" stroke="#2a2a2a" stroke-width="0.8"/><text class="l" transform="translate(76.3 572.0) scale(0.678 1)">D</text><text class="l" transform="translate(82.6 572.0) scale(0.980 1)">1</text>
<text class="l" y="588.4"><tspan x="30.7">I</tspan></text><text class="l" transform="translate(24.4 588.4) scale(0.678 1)">D</text><text class="l" transform="translate(36.9 588.4) scale(0.678 1)">N</text>
<text class="d" transform="translate(115.6 572.0) scale(0.980 1)">1</text><text class="d" transform="translate(121.9 572.0) scale(0.980 1)">2</text><text class="d" transform="translate(128.1 572.0) scale(0.980 1)">5</text>
<text class="d" transform="translate(161.4 572.0) scale(0.980 1)">1</text><text class="d" transform="translate(167.6 572.0) scale(0.980 1)">4</text><text class="d" transform="translate(173.9 572.0) scale(0.980 1)">5</text>
<text class="d" transform="translate(207.1 572.0) scale(0.980 1)">1</text><text class="d" transform="translate(213.4 572.0) scale(0.980 1)">6</text><text class="d" transform="translate(219.6 572.0) scale(0.980 1)">0</text>
<text class="d" transform="translate(252.8 572.0) scale(0.980 1)">1</text><text class="d" transform="translate(259.1 572.0) scale(0.980 1)">8</text><text class="d" transform="translate(265.3 572.0) scale(0.980 1)">0</text>
<text class="d" transform="translate(298.6 572.0) scale(0.980 1)">2</text><text class="d" transform="translate(304.8 572.0) scale(0.980 1)">1</text><text class="d" transform="translate(311.1 572.0) scale(0.980 1)">0</text>
<text class="d" transform="translate(344.3 572.0) scale(0.980 1)">2</text><text class="d" transform="translate(350.6 572.0) scale(0.980 1)">4</text><text class="d" transform="translate(356.8 572.0) scale(0.980 1)">0</text>
<text class="d" transform="translate(390.1 572.0) scale(0.980 1)">2</text><text class="d" transform="translate(396.3 572.0) scale(0.980 1)">9</text><text class="d" transform="translate(402.6 572.0) scale(0.980 1)">5</text>
<text class="d" transform="translate(435.8 572.0) scale(0.980 1)">3</text><text class="d" transform="translate(442.1 572.0) scale(0.980 1)">5</text><text class="d" transform="translate(448.3 572.0) scale(0.980 1)">0</text>
<text class="d" transform="translate(481.5 572.0) scale(0.980 1)">4</text><text class="d" transform="translate(487.8 572.0) scale(0.980 1)">0</text><text class="d" transform="translate(494.0 572.0) scale(0.980 1)">0</text>
<text class="d" transform="translate(527.3 572.0) scale(0.980 1)">4</text><text class="d" transform="translate(533.5 572.0) scale(0.980 1)">6</text><text class="d" transform="translate(539.8 572.0) scale(0.980 1)">0</text>
<text class="d" transform="translate(573.0 572.0) scale(0.980 1)">5</text><text class="d" transform="translate(579.3 572.0) scale(0.980 1)">1</text><text class="d" transform="translate(585.5 572.0) scale(0.980 1)">5</text>
<text class="d" transform="translate(618.8 572.0) scale(0.980 1)">5</text><text class="d" transform="translate(625.0 572.0) scale(0.980 1)">6</text><text class="d" transform="translate(631.3 572.0) scale(0.980 1)">5</text>
<text class="d" transform="translate(664.5 572.0) scale(0.980 1)">6</text><text class="d" transform="translate(670.8 572.0) scale(0.980 1)">2</text><text class="d" transform="translate(677.0 572.0) scale(0.980 1)">0</text>
<text class="d" transform="translate(710.2 572.0) scale(0.980 1)">7</text><text class="d" transform="translate(716.5 572.0) scale(0.980 1)">2</text><text class="d" transform="translate(722.7 572.0) scale(0.980 1)">5</text>
<text class="l" y="588.4"><tspan x="85.7">e</tspan></text><text class="l" transform="translate(67.0 588.4) scale(0.980 1)">n</text><line x1="70.8" y1="584.5" x2="75.6" y2="584.5" stroke="#333" stroke-width="1.1"/><text class="l" x="79.5" y="588.4">0</text><line x1="77.3" y1="587.8" x2="81.7" y2="580.8" stroke="#2a2a2a" stroke-width="0.8"/>
<text class="d" transform="translate(112.5 588.4) scale(0.980 1)">4</text><text class="d" x="118.7" y="583.8">~</text><text class="d" transform="translate(125.0 588.4) scale(0.980 1)">1</text><text class="d" transform="translate(131.2 588.4) scale(0.980 1)">8</text>
<text class="d" transform="translate(158.2 588.4) scale(0.980 1)">4</text><text class="d" x="164.5" y="583.8">~</text><text class="d" transform="translate(170.7 588.4) scale(0.980 1)">1</text><text class="d" transform="translate(177.0 588.4) scale(0.980 1)">8</text>
<text class="d" transform="translate(204.0 588.4) scale(0.980 1)">8</text><text class="d" x="210.2" y="583.8">~</text><text class="d" transform="translate(216.5 588.4) scale(0.980 1)">1</text><text class="d" transform="translate(222.7 588.4) scale(0.980 1)">8</text>
<text class="d" transform="translate(249.7 588.4) scale(0.980 1)">8</text><text class="d" x="256.0" y="583.8">~</text><text class="d" transform="translate(262.2 588.4) scale(0.980 1)">1</text><text class="d" transform="translate(268.5 588.4) scale(0.980 1)">8</text>
<text class="d" transform="translate(295.5 588.4) scale(0.980 1)">8</text><text class="d" x="301.7" y="583.8">~</text><text class="d" transform="translate(308.0 588.4) scale(0.980 1)">1</text><text class="d" transform="translate(314.2 588.4) scale(0.980 1)">8</text>
<text class="d" transform="translate(341.2 588.4) scale(0.980 1)">8</text><text class="d" x="347.4" y="583.8">~</text><text class="d" transform="translate(353.7 588.4) scale(0.980 1)">2</text><text class="d" transform="translate(359.9 588.4) scale(0.980 1)">2</text>
<text class="d" transform="translate(386.9 588.4) scale(0.980 1)">8</text><text class="d" x="393.2" y="583.8">~</text><text class="d" transform="translate(399.4 588.4) scale(0.980 1)">2</text><text class="d" transform="translate(405.7 588.4) scale(0.980 1)">2</text>
<text class="d" transform="translate(429.6 588.4) scale(0.980 1)">1</text><text class="d" transform="translate(435.8 588.4) scale(0.980 1)">2</text><text class="d" x="442.1" y="583.8">~</text><text class="d" transform="translate(448.3 588.4) scale(0.980 1)">2</text><text class="d" transform="translate(454.6 588.4) scale(0.980 1)">2</text>
<text class="d" transform="translate(475.3 588.4) scale(0.980 1)">1</text><text class="d" transform="translate(481.5 588.4) scale(0.980 1)">2</text><text class="d" x="487.8" y="583.8">~</text><text class="d" transform="translate(494.0 588.4) scale(0.980 1)">2</text><text class="d" transform="translate(500.3 588.4) scale(0.980 1)">2</text>
<text class="d" transform="translate(521.0 588.4) scale(0.980 1)">1</text><text class="d" transform="translate(527.3 588.4) scale(0.980 1)">6</text><text class="d" x="533.5" y="583.8">~</text><text class="d" transform="translate(539.8 588.4) scale(0.980 1)">2</text><text class="d" transform="translate(546.0 588.4) scale(0.980 1)">2</text>
<text class="d" transform="translate(566.8 588.4) scale(0.980 1)">1</text><text class="d" transform="translate(573.0 588.4) scale(0.980 1)">6</text><text class="d" x="579.3" y="583.8">~</text><text class="d" transform="translate(585.5 588.4) scale(0.980 1)">2</text><text class="d" transform="translate(591.8 588.4) scale(0.980 1)">7</text>
<text class="d" transform="translate(612.5 588.4) scale(0.980 1)">2</text><text class="d" transform="translate(618.8 588.4) scale(0.980 1)">0</text><text class="d" x="625.0" y="583.8">~</text><text class="d" transform="translate(631.3 588.4) scale(0.980 1)">2</text><text class="d" transform="translate(637.5 588.4) scale(0.980 1)">7</text>
<text class="d" transform="translate(658.2 588.4) scale(0.980 1)">2</text><text class="d" transform="translate(664.5 588.4) scale(0.980 1)">0</text><text class="d" x="670.8" y="583.8">~</text><text class="d" transform="translate(677.0 588.4) scale(0.980 1)">2</text><text class="d" transform="translate(683.2 588.4) scale(0.980 1)">7</text>
<text class="d" transform="translate(704.0 588.4) scale(0.980 1)">2</text><text class="d" transform="translate(710.2 588.4) scale(0.980 1)">0</text><text class="d" x="716.5" y="583.8">~</text><text class="d" transform="translate(722.7 588.4) scale(0.980 1)">3</text><text class="d" transform="translate(729.0 588.4) scale(0.980 1)">0</text>
<text class="l" x="50.2" y="604.9">0</text><line x1="48.0" y1="604.3" x2="52.4" y2="597.3" stroke="#2a2a2a" stroke-width="0.8"/><text class="l" transform="translate(56.4 604.9) scale(0.678 1)">D</text>
<text class="d" transform="translate(115.6 604.9) scale(0.980 1)">1</text><text class="d" transform="translate(121.9 604.9) scale(0.980 1)">6</text><text class="d" transform="translate(128.1 604.9) scale(0.980 1)">5</text>
<text class="d" transform="translate(161.4 604.9) scale(0.980 1)">1</text><text class="d" transform="translate(167.6 604.9) scale(0.980 1)">8</text><text class="d" transform="translate(173.9 604.9) scale(0.980 1)">5</text>
<text class="d" transform="translate(207.1 604.9) scale(0.980 1)">2</text><text class="d" transform="translate(213.4 604.9) scale(0.980 1)">0</text><text class="d" transform="translate(219.6 604.9) scale(0.980 1)">0</text>
<text class="d" transform="translate(252.8 604.9) scale(0.980 1)">2</text><text class="d" transform="translate(259.1 604.9) scale(0.980 1)">2</text><text class="d" transform="translate(265.3 604.9) scale(0.980 1)">9</text>
<text class="d" transform="translate(298.6 604.9) scale(0.980 1)">2</text><text class="d" transform="translate(304.8 604.9) scale(0.980 1)">5</text><text class="d" transform="translate(311.1 604.9) scale(0.980 1)">7</text>
<text class="d" transform="translate(344.3 604.9) scale(0.980 1)">2</text><text class="d" transform="translate(350.6 604.9) scale(0.980 1)">8</text><text class="d" transform="translate(356.8 604.9) scale(0.980 1)">5</text>
<text class="d" transform="translate(390.1 604.9) scale(0.980 1)">3</text><text class="d" transform="translate(396.3 604.9) scale(0.980 1)">4</text><text class="d" transform="translate(402.6 604.9) scale(0.980 1)">3</text>
<text class="d" transform="translate(435.8 604.9) scale(0.980 1)">4</text><text class="d" transform="translate(442.1 604.9) scale(0.980 1)">1</text><text class="d" transform="translate(448.3 604.9) scale(0.980 1)">1</text>
<text class="d" transform="translate(481.5 604.9) scale(0.980 1)">4</text><text class="d" transform="translate(487.8 604.9) scale(0.980 1)">9</text><text class="d" transform="translate(494.0 604.9) scale(0.980 1)">0</text>
<text class="d" transform="translate(527.3 604.9) scale(0.980 1)">5</text><text class="d" transform="translate(533.5 604.9) scale(0.980 1)">3</text><text class="d" transform="translate(539.8 604.9) scale(0.980 1)">0</text>
<text class="d" transform="translate(573.0 604.9) scale(0.980 1)">6</text><text class="d" transform="translate(579.3 604.9) scale(0.980 1)">0</text><text class="d" transform="translate(585.5 604.9) scale(0.980 1)">0</text>
<text class="d" transform="translate(618.8 604.9) scale(0.980 1)">6</text><text class="d" transform="translate(625.0 604.9) scale(0.980 1)">3</text><text class="d" transform="translate(631.3 604.9) scale(0.980 1)">0</text>
<text class="d" transform="translate(664.5 604.9) scale(0.980 1)">6</text><text class="d" transform="translate(670.8 604.9) scale(0.980 1)">9</text><text class="d" transform="translate(677.0 604.9) scale(0.980 1)">6</text>
<text class="d" transform="translate(710.2 604.9) scale(0.980 1)">8</text><text class="d" transform="translate(716.5 604.9) scale(0.980 1)">1</text><text class="d" transform="translate(722.7 604.9) scale(0.980 1)">3</text>
<text class="l" x="47.0" y="621.3">0</text><line x1="44.8" y1="620.7" x2="49.2" y2="613.7" stroke="#2a2a2a" stroke-width="0.8"/><text class="l" transform="translate(53.3 621.3) scale(0.678 1)">D</text><text class="l" transform="translate(59.5 621.3) scale(0.980 1)">2</text>
<text class="d" y="621.3"><tspan x="125.0">.</tspan></text><text class="d" transform="translate(112.5 621.3) scale(0.980 1)">5</text><text class="d" transform="translate(118.7 621.3) scale(0.980 1)">6</text><text class="d" transform="translate(131.2 621.3) scale(0.980 1)">5</text>
<text class="d" y="621.3"><tspan x="170.7">.</tspan></text><text class="d" transform="translate(158.2 621.3) scale(0.980 1)">6</text><text class="d" transform="translate(164.5 621.3) scale(0.980 1)">9</text><text class="d" transform="translate(177.0 621.3) scale(0.980 1)">5</text>
<text class="d" y="621.3"><tspan x="216.5">.</tspan></text><text class="d" transform="translate(204.0 621.3) scale(0.980 1)">7</text><text class="d" transform="translate(210.2 621.3) scale(0.980 1)">9</text><text class="d" transform="translate(222.7 621.3) scale(0.980 1)">5</text>
<text class="d" y="621.3"><tspan x="265.3">.</tspan></text><text class="d" transform="translate(246.6 621.3) scale(0.980 1)">1</text><text class="d" transform="translate(252.8 621.3) scale(0.980 1)">0</text><text class="d" transform="translate(259.1 621.3) scale(0.980 1)">2</text><text class="d" transform="translate(271.6 621.3) scale(0.980 1)">5</text>
<text class="d" transform="translate(298.6 621.3) scale(0.980 1)">1</text><text class="d" transform="translate(304.8 621.3) scale(0.980 1)">3</text><text class="d" transform="translate(311.1 621.3) scale(0.980 1)">0</text>
<text class="d" transform="translate(344.3 621.3) scale(0.980 1)">1</text><text class="d" transform="translate(350.6 621.3) scale(0.980 1)">5</text><text class="d" transform="translate(356.8 621.3) scale(0.980 1)">3</text>
<text class="d" transform="translate(390.1 621.3) scale(0.980 1)">2</text><text class="d" transform="translate(396.3 621.3) scale(0.980 1)">0</text><text class="d" transform="translate(402.6 621.3) scale(0.980 1)">3</text>
<text class="d" transform="translate(435.8 621.3) scale(0.980 1)">2</text><text class="d" transform="translate(442.1 621.3) scale(0.980 1)">5</text><text class="d" transform="translate(448.3 621.3) scale(0.980 1)">5</text>
<text class="d" y="621.3"><tspan x="494.0">.</tspan></text><text class="d" transform="translate(475.3 621.3) scale(0.980 1)">3</text><text class="d" transform="translate(481.5 621.3) scale(0.980 1)">0</text><text class="d" transform="translate(487.8 621.3) scale(0.980 1)">9</text><text class="d" transform="translate(500.3 621.3) scale(0.980 1)">5</text>
<text class="d" transform="translate(527.3 621.3) scale(0.980 1)">3</text><text class="d" transform="translate(533.5 621.3) scale(0.980 1)">5</text><text class="d" transform="translate(539.8 621.3) scale(0.980 1)">5</text>
<text class="d" y="621.3"><tspan x="585.5">.</tspan></text><text class="d" transform="translate(566.8 621.3) scale(0.980 1)">3</text><text class="d" transform="translate(573.0 621.3) scale(0.980 1)">9</text><text class="d" transform="translate(579.3 621.3) scale(0.980 1)">7</text><text class="d" transform="translate(591.8 621.3) scale(0.980 1)">5</text>
<text class="d" y="621.3"><tspan x="631.3">.</tspan></text><text class="d" transform="translate(612.5 621.3) scale(0.980 1)">4</text><text class="d" transform="translate(618.8 621.3) scale(0.980 1)">5</text><text class="d" transform="translate(625.0 621.3) scale(0.980 1)">2</text><text class="d" transform="translate(637.5 621.3) scale(0.980 1)">5</text>
<text class="d" transform="translate(664.5 621.3) scale(0.980 1)">5</text><text class="d" transform="translate(670.8 621.3) scale(0.980 1)">0</text><text class="d" transform="translate(677.0 621.3) scale(0.980 1)">0</text>
<text class="d" y="621.3"><tspan x="722.7">.</tspan></text><text class="d" transform="translate(704.0 621.3) scale(0.980 1)">6</text><text class="d" transform="translate(710.2 621.3) scale(0.980 1)">0</text><text class="d" transform="translate(716.5 621.3) scale(0.980 1)">2</text><text class="d" transform="translate(729.0 621.3) scale(0.980 1)">5</text>
<text class="l" x="47.0" y="637.7">0</text><line x1="44.8" y1="637.1" x2="49.2" y2="630.1" stroke="#2a2a2a" stroke-width="0.8"/><text class="l" transform="translate(53.3 637.7) scale(0.678 1)">D</text><text class="l" transform="translate(59.5 637.7) scale(0.980 1)">3</text>
<text class="d" transform="translate(115.6 637.7) scale(0.980 1)">1</text><text class="d" transform="translate(121.9 637.7) scale(0.980 1)">0</text><text class="d" transform="translate(128.1 637.7) scale(0.980 1)">5</text>
<text class="d" transform="translate(161.4 637.7) scale(0.980 1)">1</text><text class="d" transform="translate(167.6 637.7) scale(0.980 1)">2</text><text class="d" transform="translate(173.9 637.7) scale(0.980 1)">0</text>
<text class="d" transform="translate(207.1 637.7) scale(0.980 1)">1</text><text class="d" transform="translate(213.4 637.7) scale(0.980 1)">2</text><text class="d" transform="translate(219.6 637.7) scale(0.980 1)">3</text>
<text class="d" transform="translate(252.8 637.7) scale(0.980 1)">1</text><text class="d" transform="translate(259.1 637.7) scale(0.980 1)">3</text><text class="d" transform="translate(265.3 637.7) scale(0.980 1)">5</text>
<text class="d" transform="translate(298.6 637.7) scale(0.980 1)">1</text><text class="d" transform="translate(304.8 637.7) scale(0.980 1)">6</text><text class="d" transform="translate(311.1 637.7) scale(0.980 1)">4</text>
<text class="d" transform="translate(344.3 637.7) scale(0.980 1)">1</text><text class="d" transform="translate(350.6 637.7) scale(0.980 1)">6</text><text class="d" transform="translate(356.8 637.7) scale(0.980 1)">9</text>
<text class="d" transform="translate(390.1 637.7) scale(0.980 1)">2</text><text class="d" transform="translate(396.3 637.7) scale(0.980 1)">0</text><text class="d" transform="translate(402.6 637.7) scale(0.980 1)">1</text>
<text class="d" transform="translate(435.8 637.7) scale(0.980 1)">2</text><text class="d" transform="translate(442.1 637.7) scale(0.980 1)">0</text><text class="d" transform="translate(448.3 637.7) scale(0.980 1)">5</text>
<text class="d" transform="translate(481.5 637.7) scale(0.980 1)">2</text><text class="d" transform="translate(487.8 637.7) scale(0.980 1)">3</text><text class="d" transform="translate(494.0 637.7) scale(0.980 1)">7</text>
<text class="d" transform="translate(527.3 637.7) scale(0.980 1)">2</text><text class="d" transform="translate(533.5 637.7) scale(0.980 1)">3</text><text class="d" transform="translate(539.8 637.7) scale(0.980 1)">6</text>
<text class="d" transform="translate(573.0 637.7) scale(0.980 1)">3</text><text class="d" transform="translate(579.3 637.7) scale(0.980 1)">0</text><text class="d" transform="translate(585.5 637.7) scale(0.980 1)">0</text>
<text class="d" transform="translate(618.8 637.7) scale(0.980 1)">3</text><text class="d" transform="translate(625.0 637.7) scale(0.980 1)">3</text><text class="d" transform="translate(631.3 637.7) scale(0.980 1)">5</text>
<text class="d" transform="translate(664.5 637.7) scale(0.980 1)">3</text><text class="d" transform="translate(670.8 637.7) scale(0.980 1)">3</text><text class="d" transform="translate(677.0 637.7) scale(0.980 1)">5</text>
<text class="d" transform="translate(710.2 637.7) scale(0.980 1)">3</text><text class="d" transform="translate(716.5 637.7) scale(0.980 1)">3</text><text class="d" transform="translate(722.7 637.7) scale(0.980 1)">5</text>
<text class="l" transform="translate(50.2 654.1) scale(0.678 1)">H</text><text class="l" transform="translate(56.4 654.1) scale(0.980 1)">2</text>
<text class="d" transform="translate(115.6 654.1) scale(0.980 1)">1</text><text class="d" transform="translate(121.9 654.1) scale(0.980 1)">0</text><text class="d" transform="translate(128.1 654.1) scale(0.980 1)">3</text>
<text class="d" transform="translate(161.4 654.1) scale(0.980 1)">1</text><text class="d" transform="translate(167.6 654.1) scale(0.980 1)">1</text><text class="d" transform="translate(173.9 654.1) scale(0.980 1)">3</text>
<text class="d" transform="translate(207.1 654.1) scale(0.980 1)">1</text><text class="d" transform="translate(213.4 654.1) scale(0.980 1)">1</text><text class="d" transform="translate(219.6 654.1) scale(0.980 1)">5</text>
<text class="d" y="654.1"><tspan x="265.3">.</tspan></text><text class="d" transform="translate(246.6 654.1) scale(0.980 1)">1</text><text class="d" transform="translate(252.8 654.1) scale(0.980 1)">3</text><text class="d" transform="translate(259.1 654.1) scale(0.980 1)">5</text><text class="d" transform="translate(271.6 654.1) scale(0.980 1)">5</text>
<text class="d" transform="translate(298.6 654.1) scale(0.980 1)">1</text><text class="d" transform="translate(304.8 654.1) scale(0.980 1)">6</text><text class="d" transform="translate(311.1 654.1) scale(0.980 1)">5</text>
<text class="d" transform="translate(344.3 654.1) scale(0.980 1)">1</text><text class="d" transform="translate(350.6 654.1) scale(0.980 1)">7</text><text class="d" transform="translate(356.8 654.1) scale(0.980 1)">7</text>
<text class="d" transform="translate(390.1 654.1) scale(0.980 1)">2</text><text class="d" transform="translate(396.3 654.1) scale(0.980 1)">1</text><text class="d" transform="translate(402.6 654.1) scale(0.980 1)">0</text>
<text class="d" transform="translate(435.8 654.1) scale(0.980 1)">2</text><text class="d" transform="translate(442.1 654.1) scale(0.980 1)">4</text><text class="d" transform="translate(448.3 654.1) scale(0.980 1)">2</text>
<text class="d" transform="translate(481.5 654.1) scale(0.980 1)">3</text><text class="d" transform="translate(487.8 654.1) scale(0.980 1)">0</text><text class="d" transform="translate(494.0 654.1) scale(0.980 1)">2</text>
<text class="d" transform="translate(527.3 654.1) scale(0.980 1)">3</text><text class="d" transform="translate(533.5 654.1) scale(0.980 1)">0</text><text class="d" transform="translate(539.8 654.1) scale(0.980 1)">0</text>
<text class="d" transform="translate(573.0 654.1) scale(0.980 1)">3</text><text class="d" transform="translate(579.3 654.1) scale(0.980 1)">1</text><text class="d" transform="translate(585.5 654.1) scale(0.980 1)">8</text>
<text class="d" transform="translate(618.8 654.1) scale(0.980 1)">3</text><text class="d" transform="translate(625.0 654.1) scale(0.980 1)">7</text><text class="d" transform="translate(631.3 654.1) scale(0.980 1)">0</text>
<text class="d" transform="translate(664.5 654.1) scale(0.980 1)">4</text><text class="d" transform="translate(670.8 654.1) scale(0.980 1)">1</text><text class="d" transform="translate(677.0 654.1) scale(0.980 1)">0</text>
<text class="d" transform="translate(710.2 654.1) scale(0.980 1)">4</text><text class="d" transform="translate(716.5 654.1) scale(0.980 1)">8</text><text class="d" transform="translate(722.7 654.1) scale(0.980 1)">0</text>
<text class="l" transform="translate(50.2 670.5) scale(0.678 1)">H</text><text class="l" transform="translate(56.4 670.5) scale(0.980 1)">3</text>
<text class="d" transform="translate(118.7 670.5) scale(0.980 1)">1</text><text class="d" transform="translate(125.0 670.5) scale(0.980 1)">3</text>
<text class="d" transform="translate(164.5 670.5) scale(0.980 1)">1</text><text class="d" transform="translate(170.7 670.5) scale(0.980 1)">3</text>
<text class="d" transform="translate(210.2 670.5) scale(0.980 1)">1</text><text class="d" transform="translate(216.5 670.5) scale(0.980 1)">3</text>
<text class="d" transform="translate(256.0 670.5) scale(0.980 1)">1</text><text class="d" transform="translate(262.2 670.5) scale(0.980 1)">3</text>
<text class="d" transform="translate(301.7 670.5) scale(0.980 1)">1</text><text class="d" transform="translate(308.0 670.5) scale(0.980 1)">5</text>
<text class="d" transform="translate(347.4 670.5) scale(0.980 1)">1</text><text class="d" transform="translate(353.7 670.5) scale(0.980 1)">9</text>
<text class="d" transform="translate(393.2 670.5) scale(0.980 1)">2</text><text class="d" transform="translate(399.4 670.5) scale(0.980 1)">1</text>
<text class="d" transform="translate(438.9 670.5) scale(0.980 1)">2</text><text class="d" transform="translate(445.2 670.5) scale(0.980 1)">2</text>
<text class="d" transform="translate(484.7 670.5) scale(0.980 1)">2</text><text class="d" transform="translate(490.9 670.5) scale(0.980 1)">6</text>
<text class="d" y="670.5"><tspan x="536.7">.</tspan></text><text class="d" transform="translate(524.2 670.5) scale(0.980 1)">2</text><text class="d" transform="translate(530.4 670.5) scale(0.980 1)">5</text><text class="d" transform="translate(542.9 670.5) scale(0.980 1)">5</text>
<text class="d" transform="translate(576.1 670.5) scale(0.980 1)">3</text><text class="d" transform="translate(582.4 670.5) scale(0.980 1)">2</text>
<text class="d" transform="translate(621.9 670.5) scale(0.980 1)">3</text><text class="d" transform="translate(628.1 670.5) scale(0.980 1)">5</text>
<text class="d" transform="translate(667.6 670.5) scale(0.980 1)">3</text><text class="d" transform="translate(673.9 670.5) scale(0.980 1)">4</text>
<text class="d" transform="translate(713.4 670.5) scale(0.980 1)">4</text><text class="d" transform="translate(719.6 670.5) scale(0.980 1)">3</text>
<text class="l" transform="translate(50.2 686.9) scale(0.519 1)">W</text><text class="l" transform="translate(56.4 686.9) scale(0.980 1)">1</text>
<text class="d" y="686.9"><tspan x="125.0">.</tspan></text><text class="d" transform="translate(112.5 686.9) scale(0.980 1)">4</text><text class="d" transform="translate(118.7 686.9) scale(0.980 1)">2</text><text class="d" transform="translate(131.2 686.9) scale(0.980 1)">5</text>
<text class="d" transform="translate(164.5 686.9) scale(0.980 1)">4</text><text class="d" transform="translate(170.7 686.9) scale(0.980 1)">6</text>
<text class="d" transform="translate(210.2 686.9) scale(0.980 1)">4</text><text class="d" transform="translate(216.5 686.9) scale(0.980 1)">6</text>
<text class="d" transform="translate(256.0 686.9) scale(0.980 1)">5</text><text class="d" transform="translate(262.2 686.9) scale(0.980 1)">6</text>
<text class="d" transform="translate(301.7 686.9) scale(0.980 1)">6</text><text class="d" transform="translate(308.0 686.9) scale(0.980 1)">9</text>
<text class="d" transform="translate(347.4 686.9) scale(0.980 1)">7</text><text class="d" transform="translate(353.7 686.9) scale(0.980 1)">2</text>
<text class="d" transform="translate(393.2 686.9) scale(0.980 1)">8</text><text class="d" transform="translate(399.4 686.9) scale(0.980 1)">5</text>
<text class="d" transform="translate(435.8 686.9) scale(0.980 1)">1</text><text class="d" transform="translate(442.1 686.9) scale(0.980 1)">0</text><text class="d" transform="translate(448.3 686.9) scale(0.980 1)">9</text>
<text class="d" transform="translate(481.5 686.9) scale(0.980 1)">1</text><text class="d" transform="translate(487.8 686.9) scale(0.980 1)">3</text><text class="d" transform="translate(494.0 686.9) scale(0.980 1)">3</text>
<text class="d" transform="translate(527.3 686.9) scale(0.980 1)">1</text><text class="d" transform="translate(533.5 686.9) scale(0.980 1)">2</text><text class="d" transform="translate(539.8 686.9) scale(0.980 1)">7</text>
<text class="d" y="686.9"><tspan x="585.5">.</tspan></text><text class="d" transform="translate(566.8 686.9) scale(0.980 1)">1</text><text class="d" transform="translate(573.0 686.9) scale(0.980 1)">6</text><text class="d" transform="translate(579.3 686.9) scale(0.980 1)">6</text><text class="d" transform="translate(591.8 686.9) scale(0.980 1)">4</text>
<text class="d" transform="translate(618.8 686.9) scale(0.980 1)">1</text><text class="d" transform="translate(625.0 686.9) scale(0.980 1)">7</text><text class="d" transform="translate(631.3 686.9) scale(0.980 1)">9</text>
<text class="d" y="686.9"><tspan x="677.0">.</tspan></text><text class="d" transform="translate(658.2 686.9) scale(0.980 1)">1</text><text class="d" transform="translate(664.5 686.9) scale(0.980 1)">8</text><text class="d" transform="translate(670.8 686.9) scale(0.980 1)">9</text><text class="d" transform="translate(683.2 686.9) scale(0.980 1)">5</text>
<text class="d" transform="translate(710.2 686.9) scale(0.980 1)">2</text><text class="d" transform="translate(716.5 686.9) scale(0.980 1)">1</text><text class="d" transform="translate(722.7 686.9) scale(0.980 1)">0</text>
<text class="l" transform="translate(50.2 703.3) scale(0.519 1)">W</text><text class="l" transform="translate(56.4 703.3) scale(0.980 1)">2</text>
<text class="d" y="703.3"><tspan x="125.0">.</tspan></text><text class="d" transform="translate(112.5 703.3) scale(0.980 1)">3</text><text class="d" transform="translate(118.7 703.3) scale(0.980 1)">4</text><text class="d" transform="translate(131.2 703.3) scale(0.980 1)">6</text>
<text class="d" transform="translate(164.5 703.3) scale(0.980 1)">3</text><text class="d" transform="translate(170.7 703.3) scale(0.980 1)">7</text>
<text class="d" transform="translate(210.2 703.3) scale(0.980 1)">3</text><text class="d" transform="translate(216.5 703.3) scale(0.980 1)">7</text>
<text class="d" transform="translate(256.0 703.3) scale(0.980 1)">4</text><text class="d" transform="translate(262.2 703.3) scale(0.980 1)">7</text>
<text class="d" transform="translate(301.7 703.3) scale(0.980 1)">5</text><text class="d" transform="translate(308.0 703.3) scale(0.980 1)">7</text>
<text class="d" transform="translate(347.4 703.3) scale(0.980 1)">6</text><text class="d" transform="translate(353.7 703.3) scale(0.980 1)">2</text>
<text class="d" transform="translate(393.2 703.3) scale(0.980 1)">6</text><text class="d" transform="translate(399.4 703.3) scale(0.980 1)">9</text>
<text class="d" y="703.3"><tspan x="445.2">.</tspan></text><text class="d" transform="translate(432.7 703.3) scale(0.980 1)">9</text><text class="d" transform="translate(438.9 703.3) scale(0.980 1)">5</text><text class="d" transform="translate(451.4 703.3) scale(0.980 1)">5</text>
<text class="d" y="703.3"><tspan x="494.0">.</tspan></text><text class="d" transform="translate(475.3 703.3) scale(0.980 1)">1</text><text class="d" transform="translate(481.5 703.3) scale(0.980 1)">1</text><text class="d" transform="translate(487.8 703.3) scale(0.980 1)">6</text><text class="d" transform="translate(500.3 703.3) scale(0.980 1)">5</text>
<text class="d" transform="translate(527.3 703.3) scale(0.980 1)">1</text><text class="d" transform="translate(533.5 703.3) scale(0.980 1)">1</text><text class="d" transform="translate(539.8 703.3) scale(0.980 1)">3</text>
<text class="d" transform="translate(573.0 703.3) scale(0.980 1)">1</text><text class="d" transform="translate(579.3 703.3) scale(0.980 1)">6</text><text class="d" transform="translate(585.5 703.3) scale(0.980 1)">0</text>
<text class="d" transform="translate(618.8 703.3) scale(0.980 1)">1</text><text class="d" transform="translate(625.0 703.3) scale(0.980 1)">7</text><text class="d" transform="translate(631.3 703.3) scale(0.980 1)">1</text>
<text class="d" transform="translate(664.5 703.3) scale(0.980 1)">1</text><text class="d" transform="translate(670.8 703.3) scale(0.980 1)">8</text><text class="d" transform="translate(677.0 703.3) scale(0.980 1)">0</text>
<text class="d" transform="translate(710.2 703.3) scale(0.980 1)">2</text><text class="d" transform="translate(716.5 703.3) scale(0.980 1)">0</text><text class="d" transform="translate(722.7 703.3) scale(0.980 1)">1</text>
<text class="l" y="719.7"><tspan x="37.7">I</tspan></text><text class="l" transform="translate(18.9 719.7) scale(0.802 1)">T</text><line x1="22.8" y1="715.8" x2="27.6" y2="715.8" stroke="#333" stroke-width="1.1"/><text class="l" transform="translate(31.4 719.7) scale(0.678 1)">D</text><text class="l" transform="translate(43.9 719.7) scale(0.678 1)">N</text><text class="l" transform="translate(50.2 719.7) scale(0.980 1)">2</text><text class="l" transform="translate(56.4 719.7) scale(0.980 1)">5</text><text class="l" transform="translate(62.7 719.7) scale(0.980 1)">9</text><text class="l" transform="translate(75.2 719.7) scale(0.735 1)">B</text><text class="l" transform="translate(81.4 719.7) scale(0.881 1)">S</text><text class="l" transform="translate(87.7 719.7) scale(0.881 1)">P</text>
<text class="d" y="719.7"><tspan x="118.7">/</tspan><tspan x="131.2">″</tspan></text><text class="d" transform="translate(112.5 719.7) scale(0.980 1)">1</text><text class="d" transform="translate(125.0 719.7) scale(0.980 1)">4</text>
<text class="d" y="719.7"><tspan x="164.5">/</tspan><tspan x="177.0">″</tspan></text><text class="d" transform="translate(158.2 719.7) scale(0.980 1)">1</text><text class="d" transform="translate(170.7 719.7) scale(0.980 1)">4</text>
<text class="d" y="719.7"><tspan x="210.2">/</tspan><tspan x="222.7">″</tspan></text><text class="d" transform="translate(204.0 719.7) scale(0.980 1)">1</text><text class="d" transform="translate(216.5 719.7) scale(0.980 1)">4</text>
<text class="d" y="719.7"><tspan x="256.0">/</tspan><tspan x="268.5">″</tspan></text><text class="d" transform="translate(249.7 719.7) scale(0.980 1)">1</text><text class="d" transform="translate(262.2 719.7) scale(0.980 1)">4</text>
<text class="d" y="719.7"><tspan x="301.7">/</tspan><tspan x="314.2">″</tspan></text><text class="d" transform="translate(295.5 719.7) scale(0.980 1)">1</text><text class="d" transform="translate(308.0 719.7) scale(0.980 1)">4</text>
<text class="d" y="719.7"><tspan x="347.4">/</tspan><tspan x="359.9">″</tspan></text><text class="d" transform="translate(341.2 719.7) scale(0.980 1)">1</text><text class="d" transform="translate(353.7 719.7) scale(0.980 1)">4</text>
<text class="d" y="719.7"><tspan x="393.2">/</tspan><tspan x="405.7">″</tspan></text><text class="d" transform="translate(386.9 719.7) scale(0.980 1)">1</text><text class="d" transform="translate(399.4 719.7) scale(0.980 1)">4</text>
<text class="d" y="719.7"><tspan x="438.9">/</tspan><tspan x="451.4">″</tspan></text><text class="d" transform="translate(432.7 719.7) scale(0.980 1)">1</text><text class="d" transform="translate(445.2 719.7) scale(0.980 1)">4</text>
<text class="d" y="719.7"><tspan x="484.7">/</tspan><tspan x="497.2">″</tspan></text><text class="d" transform="translate(478.4 719.7) scale(0.980 1)">1</text><text class="d" transform="translate(490.9 719.7) scale(0.980 1)">4</text>
<text class="d" y="719.7"><tspan x="530.4">/</tspan><tspan x="542.9">″</tspan></text><text class="d" transform="translate(524.2 719.7) scale(0.980 1)">1</text><text class="d" transform="translate(536.7 719.7) scale(0.980 1)">4</text>
<text class="d" y="719.7"><tspan x="576.1">/</tspan><tspan x="588.6">″</tspan></text><text class="d" transform="translate(569.9 719.7) scale(0.980 1)">1</text><text class="d" transform="translate(582.4 719.7) scale(0.980 1)">4</text>
<text class="d" y="719.7"><tspan x="621.9">/</tspan><tspan x="634.4">″</tspan></text><text class="d" transform="translate(615.6 719.7) scale(0.980 1)">1</text><text class="d" transform="translate(628.1 719.7) scale(0.980 1)">2</text>
<text class="d" y="719.7"><tspan x="667.6">/</tspan><tspan x="680.1">″</tspan></text><text class="d" transform="translate(661.4 719.7) scale(0.980 1)">1</text><text class="d" transform="translate(673.9 719.7) scale(0.980 1)">2</text>
<text class="d" y="719.7"><tspan x="713.4">/</tspan><tspan x="725.9">″</tspan></text><text class="d" transform="translate(707.1 719.7) scale(0.980 1)">1</text><text class="d" transform="translate(719.6 719.7) scale(0.980 1)">2</text>
<text class="l" y="736.1"><tspan x="82.6">e</tspan></text><text class="l" transform="translate(63.8 736.1) scale(0.980 1)">n</text><line x1="67.7" y1="732.2" x2="72.5" y2="732.2" stroke="#333" stroke-width="1.1"/><text class="l" x="76.3" y="736.1">0</text><line x1="74.1" y1="735.5" x2="78.5" y2="728.5" stroke="#2a2a2a" stroke-width="0.8"/><text class="l" transform="translate(88.8 736.1) scale(0.980 1)">1</text>
<text class="l" transform="translate(15.0 736.1) scale(0.678 1)">D</text><text class="l" transform="translate(21.3 736.1) scale(0.678 1)">O</text><text class="l" transform="translate(27.5 736.1) scale(0.678 1)">U</text><text class="l" transform="translate(33.8 736.1) scale(0.735 1)">B</text><text class="l" transform="translate(40.0 736.1) scale(0.802 1)">L</text><text class="l" transform="translate(46.3 736.1) scale(0.802 1)">E</text>
<text class="d" y="736.1"><tspan x="128.1">.</tspan></text><text class="d" transform="translate(109.4 736.1) scale(0.980 1)">4</text><line x1="113.2" y1="732.2" x2="118.0" y2="732.2" stroke="#333" stroke-width="1.1"/><text class="d" transform="translate(121.9 736.1) scale(0.980 1)">6</text><text class="d" transform="translate(134.4 736.1) scale(0.980 1)">5</text>
<text class="d" y="736.1"><tspan x="173.9">.</tspan></text><text class="d" transform="translate(155.1 736.1) scale(0.980 1)">4</text><line x1="159.0" y1="732.2" x2="163.8" y2="732.2" stroke="#333" stroke-width="1.1"/><text class="d" transform="translate(167.6 736.1) scale(0.980 1)">6</text><text class="d" transform="translate(180.1 736.1) scale(0.980 1)">5</text>
<text class="d" y="736.1"><tspan x="219.6">.</tspan></text><text class="d" transform="translate(200.9 736.1) scale(0.980 1)">4</text><line x1="204.7" y1="732.2" x2="209.5" y2="732.2" stroke="#333" stroke-width="1.1"/><text class="d" transform="translate(213.4 736.1) scale(0.980 1)">8</text><text class="d" transform="translate(225.9 736.1) scale(0.980 1)">5</text>
<text class="d" y="736.1"><tspan x="265.3">.</tspan></text><text class="d" transform="translate(246.6 736.1) scale(0.980 1)">4</text><line x1="250.4" y1="732.2" x2="255.2" y2="732.2" stroke="#333" stroke-width="1.1"/><text class="d" transform="translate(259.1 736.1) scale(0.980 1)">8</text><text class="d" transform="translate(271.6 736.1) scale(0.980 1)">5</text>
<text class="d" y="736.1"><tspan x="311.1">.</tspan></text><text class="d" transform="translate(292.3 736.1) scale(0.980 1)">4</text><line x1="296.2" y1="732.2" x2="301.0" y2="732.2" stroke="#333" stroke-width="1.1"/><text class="d" transform="translate(304.8 736.1) scale(0.980 1)">8</text><text class="d" transform="translate(317.3 736.1) scale(0.980 1)">5</text>
<text class="d" y="736.1"><tspan x="359.9">.</tspan></text><text class="d" transform="translate(334.9 736.1) scale(0.980 1)">4</text><line x1="338.8" y1="732.2" x2="343.6" y2="732.2" stroke="#333" stroke-width="1.1"/><text class="d" transform="translate(347.4 736.1) scale(0.980 1)">1</text><text class="d" transform="translate(353.7 736.1) scale(0.980 1)">0</text><text class="d" transform="translate(366.2 736.1) scale(0.980 1)">5</text>
<text class="d" y="736.1"><tspan x="405.7">.</tspan></text><text class="d" transform="translate(380.7 736.1) scale(0.980 1)">4</text><line x1="384.5" y1="732.2" x2="389.3" y2="732.2" stroke="#333" stroke-width="1.1"/><text class="d" transform="translate(393.2 736.1) scale(0.980 1)">1</text><text class="d" transform="translate(399.4 736.1) scale(0.980 1)">0</text><text class="d" transform="translate(411.9 736.1) scale(0.980 1)">5</text>
<text class="d" y="736.1"><tspan x="451.4">.</tspan></text><text class="d" transform="translate(426.4 736.1) scale(0.980 1)">4</text><line x1="430.3" y1="732.2" x2="435.1" y2="732.2" stroke="#333" stroke-width="1.1"/><text class="d" transform="translate(438.9 736.1) scale(0.980 1)">1</text><text class="d" transform="translate(445.2 736.1) scale(0.980 1)">0</text><text class="d" transform="translate(457.7 736.1) scale(0.980 1)">5</text>
<text class="d" y="736.1"><tspan x="497.2">.</tspan></text><text class="d" transform="translate(472.2 736.1) scale(0.980 1)">4</text><line x1="476.0" y1="732.2" x2="480.8" y2="732.2" stroke="#333" stroke-width="1.1"/><text class="d" transform="translate(484.7 736.1) scale(0.980 1)">1</text><text class="d" transform="translate(490.9 736.1) scale(0.980 1)">2</text><text class="d" transform="translate(503.4 736.1) scale(0.980 1)">5</text>
<line x1="531.1" y1="732.2" x2="535.9" y2="732.2" stroke="#333" stroke-width="1.1"/>
<line x1="576.9" y1="732.2" x2="581.7" y2="732.2" stroke="#333" stroke-width="1.1"/>
<line x1="622.6" y1="732.2" x2="627.4" y2="732.2" stroke="#333" stroke-width="1.1"/>
<line x1="668.4" y1="732.2" x2="673.1" y2="732.2" stroke="#333" stroke-width="1.1"/>
<line x1="714.1" y1="732.2" x2="718.9" y2="732.2" stroke="#333" stroke-width="1.1"/>
<text class="l" x="70.1" y="752.5">0</text><line x1="67.9" y1="751.9" x2="72.3" y2="744.9" stroke="#2a2a2a" stroke-width="0.8"/><text class="l" transform="translate(76.3 752.5) scale(0.678 1)">D</text><text class="l" transform="translate(82.6 752.5) scale(0.980 1)">4</text>
<text class="l" y="752.5"><tspan x="33.8">I</tspan></text><text class="l" transform="translate(15.0 752.5) scale(0.678 1)">A</text><text class="l" transform="translate(21.3 752.5) scale(0.735 1)">C</text><text class="l" transform="translate(27.5 752.5) scale(0.802 1)">T</text><text class="l" transform="translate(40.0 752.5) scale(0.678 1)">N</text><text class="l" transform="translate(46.3 752.5) scale(0.678 1)">G</text>
<text class="d" transform="translate(118.7 752.5) scale(0.980 1)">5</text><text class="d" transform="translate(125.0 752.5) scale(0.980 1)">0</text>
<text class="d" transform="translate(164.5 752.5) scale(0.980 1)">5</text><text class="d" transform="translate(170.7 752.5) scale(0.980 1)">0</text>
<text class="d" transform="translate(210.2 752.5) scale(0.980 1)">7</text><text class="d" transform="translate(216.5 752.5) scale(0.980 1)">0</text>
<text class="d" transform="translate(256.0 752.5) scale(0.980 1)">7</text><text class="d" transform="translate(262.2 752.5) scale(0.980 1)">0</text>
<text class="d" transform="translate(301.7 752.5) scale(0.980 1)">7</text><text class="d" transform="translate(308.0 752.5) scale(0.980 1)">0</text>
<text class="d" transform="translate(344.3 752.5) scale(0.980 1)">1</text><text class="d" transform="translate(350.6 752.5) scale(0.980 1)">0</text><text class="d" transform="translate(356.8 752.5) scale(0.980 1)">2</text>
<text class="d" transform="translate(390.1 752.5) scale(0.980 1)">1</text><text class="d" transform="translate(396.3 752.5) scale(0.980 1)">0</text><text class="d" transform="translate(402.6 752.5) scale(0.980 1)">2</text>
<text class="d" transform="translate(435.8 752.5) scale(0.980 1)">1</text><text class="d" transform="translate(442.1 752.5) scale(0.980 1)">0</text><text class="d" transform="translate(448.3 752.5) scale(0.980 1)">2</text>
<text class="d" transform="translate(481.5 752.5) scale(0.980 1)">1</text><text class="d" transform="translate(487.8 752.5) scale(0.980 1)">2</text><text class="d" transform="translate(494.0 752.5) scale(0.980 1)">5</text>
<line x1="531.1" y1="748.6" x2="535.9" y2="748.6" stroke="#333" stroke-width="1.1"/>
<line x1="576.9" y1="748.6" x2="581.7" y2="748.6" stroke="#333" stroke-width="1.1"/>
<line x1="622.6" y1="748.6" x2="627.4" y2="748.6" stroke="#333" stroke-width="1.1"/>
<line x1="668.4" y1="748.6" x2="673.1" y2="748.6" stroke="#333" stroke-width="1.1"/>
<line x1="714.1" y1="748.6" x2="718.9" y2="748.6" stroke="#333" stroke-width="1.1"/>
<text class="l" transform="translate(73.2 768.9) scale(0.980 1)">h</text><text class="l" transform="translate(79.5 768.9) scale(0.980 1)">1</text>
<text class="d" transform="translate(118.7 768.9) scale(0.980 1)">2</text><text class="d" transform="translate(125.0 768.9) scale(0.980 1)">0</text>
<text class="d" transform="translate(164.5 768.9) scale(0.980 1)">2</text><text class="d" transform="translate(170.7 768.9) scale(0.980 1)">0</text>
<text class="d" transform="translate(210.2 768.9) scale(0.980 1)">2</text><text class="d" transform="translate(216.5 768.9) scale(0.980 1)">0</text>
<text class="d" transform="translate(256.0 768.9) scale(0.980 1)">2</text><text class="d" transform="translate(262.2 768.9) scale(0.980 1)">0</text>
<text class="d" transform="translate(301.7 768.9) scale(0.980 1)">2</text><text class="d" transform="translate(308.0 768.9) scale(0.980 1)">0</text>
<text class="d" transform="translate(347.4 768.9) scale(0.980 1)">2</text><text class="d" transform="translate(353.7 768.9) scale(0.980 1)">0</text>
<text class="d" transform="translate(393.2 768.9) scale(0.980 1)">3</text><text class="d" transform="translate(399.4 768.9) scale(0.980 1)">0</text>
<text class="d" transform="translate(438.9 768.9) scale(0.980 1)">3</text><text class="d" transform="translate(445.2 768.9) scale(0.980 1)">0</text>
<text class="d" transform="translate(484.7 768.9) scale(0.980 1)">3</text><text class="d" transform="translate(490.9 768.9) scale(0.980 1)">0</text>
<line x1="531.1" y1="765.0" x2="535.9" y2="765.0" stroke="#333" stroke-width="1.1"/>
<line x1="576.9" y1="765.0" x2="581.7" y2="765.0" stroke="#333" stroke-width="1.1"/>
<line x1="622.6" y1="765.0" x2="627.4" y2="765.0" stroke="#333" stroke-width="1.1"/>
<line x1="668.4" y1="765.0" x2="673.1" y2="765.0" stroke="#333" stroke-width="1.1"/>
<line x1="714.1" y1="765.0" x2="718.9" y2="765.0" stroke="#333" stroke-width="1.1"/>
<text class="l" transform="translate(73.2 785.3) scale(0.678 1)">H</text><text class="l" transform="translate(79.5 785.3) scale(0.980 1)">1</text>
<text class="d" transform="translate(115.6 785.3) scale(0.980 1)">1</text><text class="d" transform="translate(121.9 785.3) scale(0.980 1)">8</text><text class="d" transform="translate(128.1 785.3) scale(0.980 1)">8</text>
<text class="d" transform="translate(161.4 785.3) scale(0.980 1)">1</text><text class="d" transform="translate(167.6 785.3) scale(0.980 1)">9</text><text class="d" transform="translate(173.9 785.3) scale(0.980 1)">8</text>
<text class="d" transform="translate(207.1 785.3) scale(0.980 1)">2</text><text class="d" transform="translate(213.4 785.3) scale(0.980 1)">1</text><text class="d" transform="translate(219.6 785.3) scale(0.980 1)">7</text>
<text class="d" y="785.3"><tspan x="265.3">.</tspan></text><text class="d" transform="translate(246.6 785.3) scale(0.980 1)">2</text><text class="d" transform="translate(252.8 785.3) scale(0.980 1)">3</text><text class="d" transform="translate(259.1 785.3) scale(0.980 1)">7</text><text class="d" transform="translate(271.6 785.3) scale(0.980 1)">5</text>
<text class="d" transform="translate(298.6 785.3) scale(0.980 1)">2</text><text class="d" transform="translate(304.8 785.3) scale(0.980 1)">8</text><text class="d" transform="translate(311.1 785.3) scale(0.980 1)">0</text>
<text class="d" transform="translate(344.3 785.3) scale(0.980 1)">3</text><text class="d" transform="translate(350.6 785.3) scale(0.980 1)">0</text><text class="d" transform="translate(356.8 785.3) scale(0.980 1)">4</text>
<text class="d" transform="translate(390.1 785.3) scale(0.980 1)">3</text><text class="d" transform="translate(396.3 785.3) scale(0.980 1)">6</text><text class="d" transform="translate(402.6 785.3) scale(0.980 1)">7</text>
<text class="d" transform="translate(435.8 785.3) scale(0.980 1)">3</text><text class="d" transform="translate(442.1 785.3) scale(0.980 1)">9</text><text class="d" transform="translate(448.3 785.3) scale(0.980 1)">9</text>
<text class="d" transform="translate(481.5 785.3) scale(0.980 1)">4</text><text class="d" transform="translate(487.8 785.3) scale(0.980 1)">9</text><text class="d" transform="translate(494.0 785.3) scale(0.980 1)">8</text>
<line x1="531.1" y1="781.4" x2="535.9" y2="781.4" stroke="#333" stroke-width="1.1"/>
<line x1="576.9" y1="781.4" x2="581.7" y2="781.4" stroke="#333" stroke-width="1.1"/>
<line x1="622.6" y1="781.4" x2="627.4" y2="781.4" stroke="#333" stroke-width="1.1"/>
<line x1="668.4" y1="781.4" x2="673.1" y2="781.4" stroke="#333" stroke-width="1.1"/>
<line x1="714.1" y1="781.4" x2="718.9" y2="781.4" stroke="#333" stroke-width="1.1"/>
<text class="l" transform="translate(76.3 801.7) scale(0.802 1)">L</text>
<text class="d" y="801.7"><tspan x="128.1">.</tspan></text><text class="d" transform="translate(109.4 801.7) scale(0.980 1)">1</text><text class="d" transform="translate(115.6 801.7) scale(0.980 1)">5</text><text class="d" transform="translate(121.9 801.7) scale(0.980 1)">8</text><text class="d" transform="translate(134.4 801.7) scale(0.980 1)">5</text>
<text class="d" y="801.7"><tspan x="173.9">.</tspan></text><text class="d" transform="translate(155.1 801.7) scale(0.980 1)">1</text><text class="d" transform="translate(161.4 801.7) scale(0.980 1)">5</text><text class="d" transform="translate(167.6 801.7) scale(0.980 1)">8</text><text class="d" transform="translate(180.1 801.7) scale(0.980 1)">5</text>
<text class="d" y="801.7"><tspan x="219.6">.</tspan></text><text class="d" transform="translate(200.9 801.7) scale(0.980 1)">2</text><text class="d" transform="translate(207.1 801.7) scale(0.980 1)">1</text><text class="d" transform="translate(213.4 801.7) scale(0.980 1)">0</text><text class="d" transform="translate(225.9 801.7) scale(0.980 1)">5</text>
<text class="d" y="801.7"><tspan x="265.3">.</tspan></text><text class="d" transform="translate(246.6 801.7) scale(0.980 1)">2</text><text class="d" transform="translate(252.8 801.7) scale(0.980 1)">1</text><text class="d" transform="translate(259.1 801.7) scale(0.980 1)">0</text><text class="d" transform="translate(271.6 801.7) scale(0.980 1)">5</text>
<text class="d" y="801.7"><tspan x="311.1">.</tspan></text><text class="d" transform="translate(292.3 801.7) scale(0.980 1)">2</text><text class="d" transform="translate(298.6 801.7) scale(0.980 1)">4</text><text class="d" transform="translate(304.8 801.7) scale(0.980 1)">7</text><text class="d" transform="translate(317.3 801.7) scale(0.980 1)">5</text>
<text class="d" y="801.7"><tspan x="356.8">.</tspan></text><text class="d" transform="translate(338.1 801.7) scale(0.980 1)">2</text><text class="d" transform="translate(344.3 801.7) scale(0.980 1)">6</text><text class="d" transform="translate(350.6 801.7) scale(0.980 1)">8</text><text class="d" transform="translate(363.1 801.7) scale(0.980 1)">5</text>
<text class="d" transform="translate(390.1 801.7) scale(0.980 1)">3</text><text class="d" transform="translate(396.3 801.7) scale(0.980 1)">4</text><text class="d" transform="translate(402.6 801.7) scale(0.980 1)">5</text>
<text class="d" transform="translate(435.8 801.7) scale(0.980 1)">3</text><text class="d" transform="translate(442.1 801.7) scale(0.980 1)">4</text><text class="d" transform="translate(448.3 801.7) scale(0.980 1)">5</text>
<text class="d" y="801.7"><tspan x="494.0">.</tspan></text><text class="d" transform="translate(475.3 801.7) scale(0.980 1)">4</text><text class="d" transform="translate(481.5 801.7) scale(0.980 1)">3</text><text class="d" transform="translate(487.8 801.7) scale(0.980 1)">7</text><text class="d" transform="translate(500.3 801.7) scale(0.980 1)">5</text>
<line x1="531.1" y1="797.8" x2="535.9" y2="797.8" stroke="#333" stroke-width="1.1"/>
<line x1="576.9" y1="797.8" x2="581.7" y2="797.8" stroke="#333" stroke-width="1.1"/>
<line x1="622.6" y1="797.8" x2="627.4" y2="797.8" stroke="#333" stroke-width="1.1"/>
<line x1="668.4" y1="797.8" x2="673.1" y2="797.8" stroke="#333" stroke-width="1.1"/>
<line x1="714.1" y1="797.8" x2="718.9" y2="797.8" stroke="#333" stroke-width="1.1"/>
<text class="l" transform="translate(76.3 818.2) scale(0.881 1)">S</text>
<text class="d" transform="translate(118.7 818.2) scale(0.980 1)">1</text><text class="d" transform="translate(125.0 818.2) scale(0.980 1)">4</text>
<text class="d" transform="translate(164.5 818.2) scale(0.980 1)">1</text><text class="d" transform="translate(170.7 818.2) scale(0.980 1)">4</text>
<text class="d" transform="translate(210.2 818.2) scale(0.980 1)">1</text><text class="d" transform="translate(216.5 818.2) scale(0.980 1)">7</text>
<text class="d" transform="translate(256.0 818.2) scale(0.980 1)">1</text><text class="d" transform="translate(262.2 818.2) scale(0.980 1)">7</text>
<text class="d" transform="translate(301.7 818.2) scale(0.980 1)">1</text><text class="d" transform="translate(308.0 818.2) scale(0.980 1)">7</text>
<text class="d" transform="translate(347.4 818.2) scale(0.980 1)">2</text><text class="d" transform="translate(353.7 818.2) scale(0.980 1)">2</text>
<text class="d" transform="translate(393.2 818.2) scale(0.980 1)">2</text><text class="d" transform="translate(399.4 818.2) scale(0.980 1)">7</text>
<text class="d" transform="translate(438.9 818.2) scale(0.980 1)">2</text><text class="d" transform="translate(445.2 818.2) scale(0.980 1)">7</text>
<text class="d" transform="translate(484.7 818.2) scale(0.980 1)">2</text><text class="d" transform="translate(490.9 818.2) scale(0.980 1)">7</text>
<line x1="531.1" y1="814.3" x2="535.9" y2="814.3" stroke="#333" stroke-width="1.1"/>
<line x1="576.9" y1="814.3" x2="581.7" y2="814.3" stroke="#333" stroke-width="1.1"/>
<line x1="622.6" y1="814.3" x2="627.4" y2="814.3" stroke="#333" stroke-width="1.1"/>
<line x1="668.4" y1="814.3" x2="673.1" y2="814.3" stroke="#333" stroke-width="1.1"/>
<line x1="714.1" y1="814.3" x2="718.9" y2="814.3" stroke="#333" stroke-width="1.1"/>
<text class="l" transform="translate(73.2 834.6) scale(0.519 1)">W</text><text class="l" transform="translate(79.5 834.6) scale(0.980 1)">3</text>
<text class="d" transform="translate(118.7 834.6) scale(0.980 1)">3</text><text class="d" transform="translate(125.0 834.6) scale(0.980 1)">6</text>
<text class="d" transform="translate(164.5 834.6) scale(0.980 1)">3</text><text class="d" transform="translate(170.7 834.6) scale(0.980 1)">6</text>
<text class="d" transform="translate(210.2 834.6) scale(0.980 1)">4</text><text class="d" transform="translate(216.5 834.6) scale(0.980 1)">2</text>
<text class="d" transform="translate(256.0 834.6) scale(0.980 1)">4</text><text class="d" transform="translate(262.2 834.6) scale(0.980 1)">2</text>
<text class="d" transform="translate(301.7 834.6) scale(0.980 1)">4</text><text class="d" transform="translate(308.0 834.6) scale(0.980 1)">8</text>
<text class="d" transform="translate(347.4 834.6) scale(0.980 1)">5</text><text class="d" transform="translate(353.7 834.6) scale(0.980 1)">5</text>
<text class="d" y="834.6"><tspan x="399.4">.</tspan></text><text class="d" transform="translate(386.9 834.6) scale(0.980 1)">6</text><text class="d" transform="translate(393.2 834.6) scale(0.980 1)">6</text><text class="d" transform="translate(405.7 834.6) scale(0.980 1)">5</text>
<text class="d" y="834.6"><tspan x="445.2">.</tspan></text><text class="d" transform="translate(432.7 834.6) scale(0.980 1)">6</text><text class="d" transform="translate(438.9 834.6) scale(0.980 1)">6</text><text class="d" transform="translate(451.4 834.6) scale(0.980 1)">5</text>
<text class="d" transform="translate(484.7 834.6) scale(0.980 1)">8</text><text class="d" transform="translate(490.9 834.6) scale(0.980 1)">1</text>
<line x1="531.1" y1="830.7" x2="535.9" y2="830.7" stroke="#333" stroke-width="1.1"/>
<line x1="576.9" y1="830.7" x2="581.7" y2="830.7" stroke="#333" stroke-width="1.1"/>
<line x1="622.6" y1="830.7" x2="627.4" y2="830.7" stroke="#333" stroke-width="1.1"/>
<line x1="668.4" y1="830.7" x2="673.1" y2="830.7" stroke="#333" stroke-width="1.1"/>
<line x1="714.1" y1="830.7" x2="718.9" y2="830.7" stroke="#333" stroke-width="1.1"/>
<text class="l" transform="translate(73.2 851.0) scale(0.519 1)">W</text><text class="l" transform="translate(79.5 851.0) scale(0.980 1)">4</text>
<text class="d" transform="translate(118.7 851.0) scale(0.980 1)">4</text><text class="d" transform="translate(125.0 851.0) scale(0.980 1)">7</text>
<text class="d" transform="translate(164.5 851.0) scale(0.980 1)">4</text><text class="d" transform="translate(170.7 851.0) scale(0.980 1)">7</text>
<text class="d" transform="translate(210.2 851.0) scale(0.980 1)">5</text><text class="d" transform="translate(216.5 851.0) scale(0.980 1)">2</text>
<text class="d" transform="translate(256.0 851.0) scale(0.980 1)">5</text><text class="d" transform="translate(262.2 851.0) scale(0.980 1)">2</text>
<text class="d" transform="translate(301.7 851.0) scale(0.980 1)">5</text><text class="d" transform="translate(308.0 851.0) scale(0.980 1)">7</text>
<text class="d" transform="translate(347.4 851.0) scale(0.980 1)">6</text><text class="d" transform="translate(353.7 851.0) scale(0.980 1)">7</text>
<text class="d" transform="translate(393.2 851.0) scale(0.980 1)">8</text><text class="d" transform="translate(399.4 851.0) scale(0.980 1)">2</text>
<text class="d" transform="translate(438.9 851.0) scale(0.980 1)">8</text><text class="d" transform="translate(445.2 851.0) scale(0.980 1)">2</text>
<text class="d" transform="translate(484.7 851.0) scale(0.980 1)">9</text><text class="d" transform="translate(490.9 851.0) scale(0.980 1)">9</text>
<line x1="531.1" y1="847.1" x2="535.9" y2="847.1" stroke="#333" stroke-width="1.1"/>
<line x1="576.9" y1="847.1" x2="581.7" y2="847.1" stroke="#333" stroke-width="1.1"/>
<line x1="622.6" y1="847.1" x2="627.4" y2="847.1" stroke="#333" stroke-width="1.1"/>
<line x1="668.4" y1="847.1" x2="673.1" y2="847.1" stroke="#333" stroke-width="1.1"/>
<line x1="714.1" y1="847.1" x2="718.9" y2="847.1" stroke="#333" stroke-width="1.1"/>
<text class="l" y="867.4"><tspan x="82.6">e</tspan></text><text class="l" transform="translate(63.8 867.4) scale(0.980 1)">n</text><line x1="67.7" y1="863.5" x2="72.5" y2="863.5" stroke="#333" stroke-width="1.1"/><text class="l" x="76.3" y="867.4">0</text><line x1="74.1" y1="866.8" x2="78.5" y2="859.8" stroke="#2a2a2a" stroke-width="0.8"/><text class="l" transform="translate(88.8 867.4) scale(0.980 1)">1</text>
<text class="l" y="867.4"><tspan x="33.8">I</tspan></text><text class="l" transform="translate(15.0 867.4) scale(0.881 1)">S</text><text class="l" transform="translate(21.3 867.4) scale(0.881 1)">P</text><text class="l" transform="translate(27.5 867.4) scale(0.735 1)">R</text><text class="l" transform="translate(40.0 867.4) scale(0.678 1)">N</text><text class="l" transform="translate(46.3 867.4) scale(0.678 1)">G</text>
<text class="d" y="867.4"><tspan x="128.1">.</tspan></text><text class="d" transform="translate(109.4 867.4) scale(0.980 1)">4</text><line x1="113.2" y1="863.5" x2="118.0" y2="863.5" stroke="#333" stroke-width="1.1"/><text class="d" transform="translate(121.9 867.4) scale(0.980 1)">6</text><text class="d" transform="translate(134.4 867.4) scale(0.980 1)">5</text>
<text class="d" y="867.4"><tspan x="173.9">.</tspan></text><text class="d" transform="translate(155.1 867.4) scale(0.980 1)">4</text><line x1="159.0" y1="863.5" x2="163.8" y2="863.5" stroke="#333" stroke-width="1.1"/><text class="d" transform="translate(167.6 867.4) scale(0.980 1)">6</text><text class="d" transform="translate(180.1 867.4) scale(0.980 1)">5</text>
<text class="d" y="867.4"><tspan x="219.6">.</tspan></text><text class="d" transform="translate(200.9 867.4) scale(0.980 1)">4</text><line x1="204.7" y1="863.5" x2="209.5" y2="863.5" stroke="#333" stroke-width="1.1"/><text class="d" transform="translate(213.4 867.4) scale(0.980 1)">8</text><text class="d" transform="translate(225.9 867.4) scale(0.980 1)">5</text>
<text class="d" y="867.4"><tspan x="265.3">.</tspan></text><text class="d" transform="translate(246.6 867.4) scale(0.980 1)">4</text><line x1="250.4" y1="863.5" x2="255.2" y2="863.5" stroke="#333" stroke-width="1.1"/><text class="d" transform="translate(259.1 867.4) scale(0.980 1)">8</text><text class="d" transform="translate(271.6 867.4) scale(0.980 1)">5</text>
<text class="d" y="867.4"><tspan x="314.2">.</tspan></text><text class="d" transform="translate(289.2 867.4) scale(0.980 1)">4</text><line x1="293.1" y1="863.5" x2="297.9" y2="863.5" stroke="#333" stroke-width="1.1"/><text class="d" transform="translate(301.7 867.4) scale(0.980 1)">1</text><text class="d" transform="translate(308.0 867.4) scale(0.980 1)">0</text><text class="d" transform="translate(320.5 867.4) scale(0.980 1)">5</text>
<text class="d" y="867.4"><tspan x="359.9">.</tspan></text><text class="d" transform="translate(334.9 867.4) scale(0.980 1)">4</text><line x1="338.8" y1="863.5" x2="343.6" y2="863.5" stroke="#333" stroke-width="1.1"/><text class="d" transform="translate(347.4 867.4) scale(0.980 1)">1</text><text class="d" transform="translate(353.7 867.4) scale(0.980 1)">0</text><text class="d" transform="translate(366.2 867.4) scale(0.980 1)">5</text>
<text class="d" y="867.4"><tspan x="405.7">.</tspan></text><text class="d" transform="translate(380.7 867.4) scale(0.980 1)">4</text><line x1="384.5" y1="863.5" x2="389.3" y2="863.5" stroke="#333" stroke-width="1.1"/><text class="d" transform="translate(393.2 867.4) scale(0.980 1)">1</text><text class="d" transform="translate(399.4 867.4) scale(0.980 1)">2</text><text class="d" transform="translate(411.9 867.4) scale(0.980 1)">5</text>
<text class="d" y="867.4"><tspan x="451.4">.</tspan></text><text class="d" transform="translate(426.4 867.4) scale(0.980 1)">4</text><line x1="430.3" y1="863.5" x2="435.1" y2="863.5" stroke="#333" stroke-width="1.1"/><text class="d" transform="translate(438.9 867.4) scale(0.980 1)">1</text><text class="d" transform="translate(445.2 867.4) scale(0.980 1)">2</text><text class="d" transform="translate(457.7 867.4) scale(0.980 1)">5</text>
<line x1="485.4" y1="863.5" x2="490.2" y2="863.5" stroke="#333" stroke-width="1.1"/>
<line x1="531.1" y1="863.5" x2="535.9" y2="863.5" stroke="#333" stroke-width="1.1"/>
<line x1="576.9" y1="863.5" x2="581.7" y2="863.5" stroke="#333" stroke-width="1.1"/>
<line x1="622.6" y1="863.5" x2="627.4" y2="863.5" stroke="#333" stroke-width="1.1"/>
<line x1="668.4" y1="863.5" x2="673.1" y2="863.5" stroke="#333" stroke-width="1.1"/>
<line x1="714.1" y1="863.5" x2="718.9" y2="863.5" stroke="#333" stroke-width="1.1"/>
<text class="l" x="70.1" y="883.8">0</text><line x1="67.9" y1="883.2" x2="72.3" y2="876.2" stroke="#2a2a2a" stroke-width="0.8"/><text class="l" transform="translate(76.3 883.8) scale(0.678 1)">D</text><text class="l" transform="translate(82.6 883.8) scale(0.980 1)">4</text>
<text class="l" transform="translate(15.0 883.8) scale(0.735 1)">R</text><text class="l" transform="translate(21.3 883.8) scale(0.802 1)">E</text><text class="l" transform="translate(27.5 883.8) scale(0.802 1)">T</text><text class="l" transform="translate(33.8 883.8) scale(0.678 1)">U</text><text class="l" transform="translate(40.0 883.8) scale(0.735 1)">R</text><text class="l" transform="translate(46.3 883.8) scale(0.678 1)">N</text>
<text class="d" transform="translate(118.7 883.8) scale(0.980 1)">5</text><text class="d" transform="translate(125.0 883.8) scale(0.980 1)">0</text>
<text class="d" transform="translate(164.5 883.8) scale(0.980 1)">5</text><text class="d" transform="translate(170.7 883.8) scale(0.980 1)">0</text>
<text class="d" transform="translate(210.2 883.8) scale(0.980 1)">7</text><text class="d" transform="translate(216.5 883.8) scale(0.980 1)">0</text>
<text class="d" transform="translate(256.0 883.8) scale(0.980 1)">7</text><text class="d" transform="translate(262.2 883.8) scale(0.980 1)">0</text>
<text class="d" transform="translate(298.6 883.8) scale(0.980 1)">1</text><text class="d" transform="translate(304.8 883.8) scale(0.980 1)">0</text><text class="d" transform="translate(311.1 883.8) scale(0.980 1)">2</text>
<text class="d" transform="translate(344.3 883.8) scale(0.980 1)">1</text><text class="d" transform="translate(350.6 883.8) scale(0.980 1)">0</text><text class="d" transform="translate(356.8 883.8) scale(0.980 1)">2</text>
<text class="d" transform="translate(390.1 883.8) scale(0.980 1)">1</text><text class="d" transform="translate(396.3 883.8) scale(0.980 1)">2</text><text class="d" transform="translate(402.6 883.8) scale(0.980 1)">5</text>
<text class="d" transform="translate(435.8 883.8) scale(0.980 1)">1</text><text class="d" transform="translate(442.1 883.8) scale(0.980 1)">2</text><text class="d" transform="translate(448.3 883.8) scale(0.980 1)">5</text>
<line x1="485.4" y1="879.9" x2="490.2" y2="879.9" stroke="#333" stroke-width="1.1"/>
<line x1="531.1" y1="879.9" x2="535.9" y2="879.9" stroke="#333" stroke-width="1.1"/>
<line x1="576.9" y1="879.9" x2="581.7" y2="879.9" stroke="#333" stroke-width="1.1"/>
<line x1="622.6" y1="879.9" x2="627.4" y2="879.9" stroke="#333" stroke-width="1.1"/>
<line x1="668.4" y1="879.9" x2="673.1" y2="879.9" stroke="#333" stroke-width="1.1"/>
<line x1="714.1" y1="879.9" x2="718.9" y2="879.9" stroke="#333" stroke-width="1.1"/>
<text class="l" transform="translate(73.2 900.2) scale(0.980 1)">h</text><text class="l" transform="translate(79.5 900.2) scale(0.980 1)">1</text>
<text class="d" transform="translate(118.7 900.2) scale(0.980 1)">2</text><text class="d" transform="translate(125.0 900.2) scale(0.980 1)">0</text>
<text class="d" transform="translate(164.5 900.2) scale(0.980 1)">2</text><text class="d" transform="translate(170.7 900.2) scale(0.980 1)">0</text>
<text class="d" transform="translate(210.2 900.2) scale(0.980 1)">2</text><text class="d" transform="translate(216.5 900.2) scale(0.980 1)">0</text>
<text class="d" transform="translate(256.0 900.2) scale(0.980 1)">2</text><text class="d" transform="translate(262.2 900.2) scale(0.980 1)">0</text>
<text class="d" transform="translate(301.7 900.2) scale(0.980 1)">2</text><text class="d" transform="translate(308.0 900.2) scale(0.980 1)">0</text>
<text class="d" transform="translate(347.4 900.2) scale(0.980 1)">3</text><text class="d" transform="translate(353.7 900.2) scale(0.980 1)">0</text>
<text class="d" transform="translate(393.2 900.2) scale(0.980 1)">3</text><text class="d" transform="translate(399.4 900.2) scale(0.980 1)">0</text>
<text class="d" transform="translate(438.9 900.2) scale(0.980 1)">3</text><text class="d" transform="translate(445.2 900.2) scale(0.980 1)">0</text>
<line x1="485.4" y1="896.3" x2="490.2" y2="896.3" stroke="#333" stroke-width="1.1"/>
<line x1="531.1" y1="896.3" x2="535.9" y2="896.3" stroke="#333" stroke-width="1.1"/>
<line x1="576.9" y1="896.3" x2="581.7" y2="896.3" stroke="#333" stroke-width="1.1"/>
<line x1="622.6" y1="896.3" x2="627.4" y2="896.3" stroke="#333" stroke-width="1.1"/>
<line x1="668.4" y1="896.3" x2="673.1" y2="896.3" stroke="#333" stroke-width="1.1"/>
<line x1="714.1" y1="896.3" x2="718.9" y2="896.3" stroke="#333" stroke-width="1.1"/>
<text class="l" transform="translate(73.2 916.6) scale(0.678 1)">H</text><text class="l" transform="translate(79.5 916.6) scale(0.980 1)">1</text>
<text class="d" transform="translate(115.6 916.6) scale(0.980 1)">2</text><text class="d" transform="translate(121.9 916.6) scale(0.980 1)">0</text><text class="d" transform="translate(128.1 916.6) scale(0.980 1)">5</text>
<text class="d" transform="translate(161.4 916.6) scale(0.980 1)">2</text><text class="d" transform="translate(167.6 916.6) scale(0.980 1)">1</text><text class="d" transform="translate(173.9 916.6) scale(0.980 1)">5</text>
<text class="d" transform="translate(207.1 916.6) scale(0.980 1)">2</text><text class="d" transform="translate(213.4 916.6) scale(0.980 1)">3</text><text class="d" transform="translate(219.6 916.6) scale(0.980 1)">0</text>
<text class="d" y="916.6"><tspan x="265.3">.</tspan></text><text class="d" transform="translate(246.6 916.6) scale(0.980 1)">2</text><text class="d" transform="translate(252.8 916.6) scale(0.980 1)">5</text><text class="d" transform="translate(259.1 916.6) scale(0.980 1)">0</text><text class="d" transform="translate(271.6 916.6) scale(0.980 1)">5</text>
<text class="d" transform="translate(298.6 916.6) scale(0.980 1)">2</text><text class="d" transform="translate(304.8 916.6) scale(0.980 1)">9</text><text class="d" transform="translate(311.1 916.6) scale(0.980 1)">2</text>
<text class="d" transform="translate(344.3 916.6) scale(0.980 1)">3</text><text class="d" transform="translate(350.6 916.6) scale(0.980 1)">3</text><text class="d" transform="translate(356.8 916.6) scale(0.980 1)">4</text>
<text class="d" transform="translate(390.1 916.6) scale(0.980 1)">4</text><text class="d" transform="translate(396.3 916.6) scale(0.980 1)">0</text><text class="d" transform="translate(402.6 916.6) scale(0.980 1)">6</text>
<text class="d" transform="translate(435.8 916.6) scale(0.980 1)">4</text><text class="d" transform="translate(442.1 916.6) scale(0.980 1)">3</text><text class="d" transform="translate(448.3 916.6) scale(0.980 1)">8</text>
<line x1="485.4" y1="912.7" x2="490.2" y2="912.7" stroke="#333" stroke-width="1.1"/>
<line x1="531.1" y1="912.7" x2="535.9" y2="912.7" stroke="#333" stroke-width="1.1"/>
<line x1="576.9" y1="912.7" x2="581.7" y2="912.7" stroke="#333" stroke-width="1.1"/>
<line x1="622.6" y1="912.7" x2="627.4" y2="912.7" stroke="#333" stroke-width="1.1"/>
<line x1="668.4" y1="912.7" x2="673.1" y2="912.7" stroke="#333" stroke-width="1.1"/>
<line x1="714.1" y1="912.7" x2="718.9" y2="912.7" stroke="#333" stroke-width="1.1"/>
</g>
<g id="wm-table">
<g fill="none" stroke="#c4c4c4" stroke-width="1.54" stroke-linecap="round" stroke-linejoin="round" opacity="0.55">
<path transform="translate(38.0 541.0) scale(1.042)" d="M2,4 L22,4 M12,1 L12,4 M3,23 L3,8 L21,8 L21,22 L19,23 M8,10 L10,13 M16,10 L14,13 M7,14 L17,14 M7,18 L17,18 M12,14 L12,23"/>
<path transform="translate(65.5 541.0) scale(1.042)" d="M12,1 L12,4 M2,5 L22,5 M6,8 L18,8 L18,14 L6,14 Z M12,14 L12,22 L10,23 M7,17 L4,22 M17,17 L20,22"/>
<path transform="translate(93.0 541.0) scale(1.042)" d="M2,4 L22,4 M8,1 L8,7 M16,1 L16,7 M3,11 L21,11 M12,7 L12,23 M12,11 L3,21 M12,11 L21,21 M8,18 L16,18"/>
<path transform="translate(120.5 541.0) scale(1.042)" d="M2,5 L11,5 M2,10 L11,10 M1,15 L12,15 M7,1 L7,17 L3,23 M15,2 L15,23 M15,3 L21,3 L18,9 L21,13 L21,16 L17,17"/>
<path transform="translate(148.0 541.0) scale(1.042)" d="M12,1 L10,4 M5,5 L19,5 L19,23 L5,23 Z M5,11 L19,11 M5,17 L19,17"/>
<path transform="translate(175.5 541.0) scale(1.042)" d="M3,5 L10,5 M1,11 L12,11 M6,11 L3,19 L11,18 M9,15 L11,20 M13,8 L22,8 L21,22 L19,21 M17,2 L17,10 L13,22"/>
<path transform="translate(203.0 541.0) scale(1.042)" d="M8,1 L2,11 M5.5,7 L5.5,23 M20,6 L12,13 M12,2 L12,20 L22,20 L22,17"/>
<path transform="translate(230.5 541.0) scale(1.042)" d="M3,2 L5,5 M1,9 L5,9 L5,20 L8,17 M12,3 L12,8 L10,11 M12,3 L19,3 L19,9 L22,9 M11,13 L20,13 L11,23 M12,15 L22,23"/>
<path transform="translate(258.0 541.0) scale(1.042)" d="M9,1 L3,8 M8,3 L17,3 L5,13 M8,5 L21,13 M5,13 L19,13 L19,23 L5,23 Z M12,13 L12,23 M5,18 L19,18"/>
<path transform="translate(285.5 541.0) scale(1.042)" d="M2,5 L22,5 M10,1 L2,14 M7,10 L7,23 M7,10 L19,10 L19,22 L17,23 M7,14 L19,14 M7,18 L19,18"/>
<path transform="translate(313.0 541.0) scale(1.042)" d="M3,2 L3,23 M3,3 L8,3 L5,9 L8,13 L7,16 L4,16 M11,3 L20,3 L20,12 L11,12 M11,3 L11,22 L14,20 M11,7.5 L20,7.5 M15,12 L22,23 M21,14 L17,17"/>
<path transform="translate(340.5 541.0) scale(1.042)" d="M9,2 L2,12 M14,2 L22,12 M11,11 L5,21 L19,20 M16,15 L20,23"/>
<path transform="translate(368.0 541.0) scale(1.042)" d="M4,3 L20,3 L20,22 L17,20 M3,8 L15,8 M5,12 L15,12 L15,19 L5,19 Z"/>
</g>
<g fill="none" stroke="#c4c4c4" stroke-width="1.54" stroke-linecap="round" stroke-linejoin="round" opacity="0.55">
<path transform="translate(371.0 781.0) scale(1.042)" d="M2,4 L22,4 M12,1 L12,4 M3,23 L3,8 L21,8 L21,22 L19,23 M8,10 L10,13 M16,10 L14,13 M7,14 L17,14 M7,18 L17,18 M12,14 L12,23"/>
<path transform="translate(397.7 781.0) scale(1.042)" d="M12,1 L12,4 M2,5 L22,5 M6,8 L18,8 L18,14 L6,14 Z M12,14 L12,22 L10,23 M7,17 L4,22 M17,17 L20,22"/>
<path transform="translate(424.4 781.0) scale(1.042)" d="M2,4 L22,4 M8,1 L8,7 M16,1 L16,7 M3,11 L21,11 M12,7 L12,23 M12,11 L3,21 M12,11 L21,21 M8,18 L16,18"/>
<path transform="translate(451.1 781.0) scale(1.042)" d="M2,5 L11,5 M2,10 L11,10 M1,15 L12,15 M7,1 L7,17 L3,23 M15,2 L15,23 M15,3 L21,3 L18,9 L21,13 L21,16 L17,17"/>
<path transform="translate(477.8 781.0) scale(1.042)" d="M12,1 L10,4 M5,5 L19,5 L19,23 L5,23 Z M5,11 L19,11 M5,17 L19,17"/>
<path transform="translate(504.5 781.0) scale(1.042)" d="M3,5 L10,5 M1,11 L12,11 M6,11 L3,19 L11,18 M9,15 L11,20 M13,8 L22,8 L21,22 L19,21 M17,2 L17,10 L13,22"/>
<path transform="translate(531.2 781.0) scale(1.042)" d="M8,1 L2,11 M5.5,7 L5.5,23 M20,6 L12,13 M12,2 L12,20 L22,20 L22,17"/>
<path transform="translate(557.9 781.0) scale(1.042)" d="M3,2 L5,5 M1,9 L5,9 L5,20 L8,17 M12,3 L12,8 L10,11 M12,3 L19,3 L19,9 L22,9 M11,13 L20,13 L11,23 M12,15 L22,23"/>
<path transform="translate(584.6 781.0) scale(1.042)" d="M9,1 L3,8 M8,3 L17,3 L5,13 M8,5 L21,13 M5,13 L19,13 L19,23 L5,23 Z M12,13 L12,23 M5,18 L19,18"/>
<path transform="translate(611.3 781.0) scale(1.042)" d="M2,5 L22,5 M10,1 L2,14 M7,10 L7,23 M7,10 L19,10 L19,22 L17,23 M7,14 L19,14 M7,18 L19,18"/>
<path transform="translate(638.0 781.0) scale(1.042)" d="M3,2 L3,23 M3,3 L8,3 L5,9 L8,13 L7,16 L4,16 M11,3 L20,3 L20,12 L11,12 M11,3 L11,22 L14,20 M11,7.5 L20,7.5 M15,12 L22,23 M21,14 L17,17"/>
<path transform="translate(664.7 781.0) scale(1.042)" d="M9,2 L2,12 M14,2 L22,12 M11,11 L5,21 L19,20 M16,15 L20,23"/>
<path transform="translate(691.4 781.0) scale(1.042)" d="M4,3 L20,3 L20,22 L17,20 M3,8 L15,8 M5,12 L15,12 L15,19 L5,19 Z"/>
</g>
</g>
</svg>
</body></html>
